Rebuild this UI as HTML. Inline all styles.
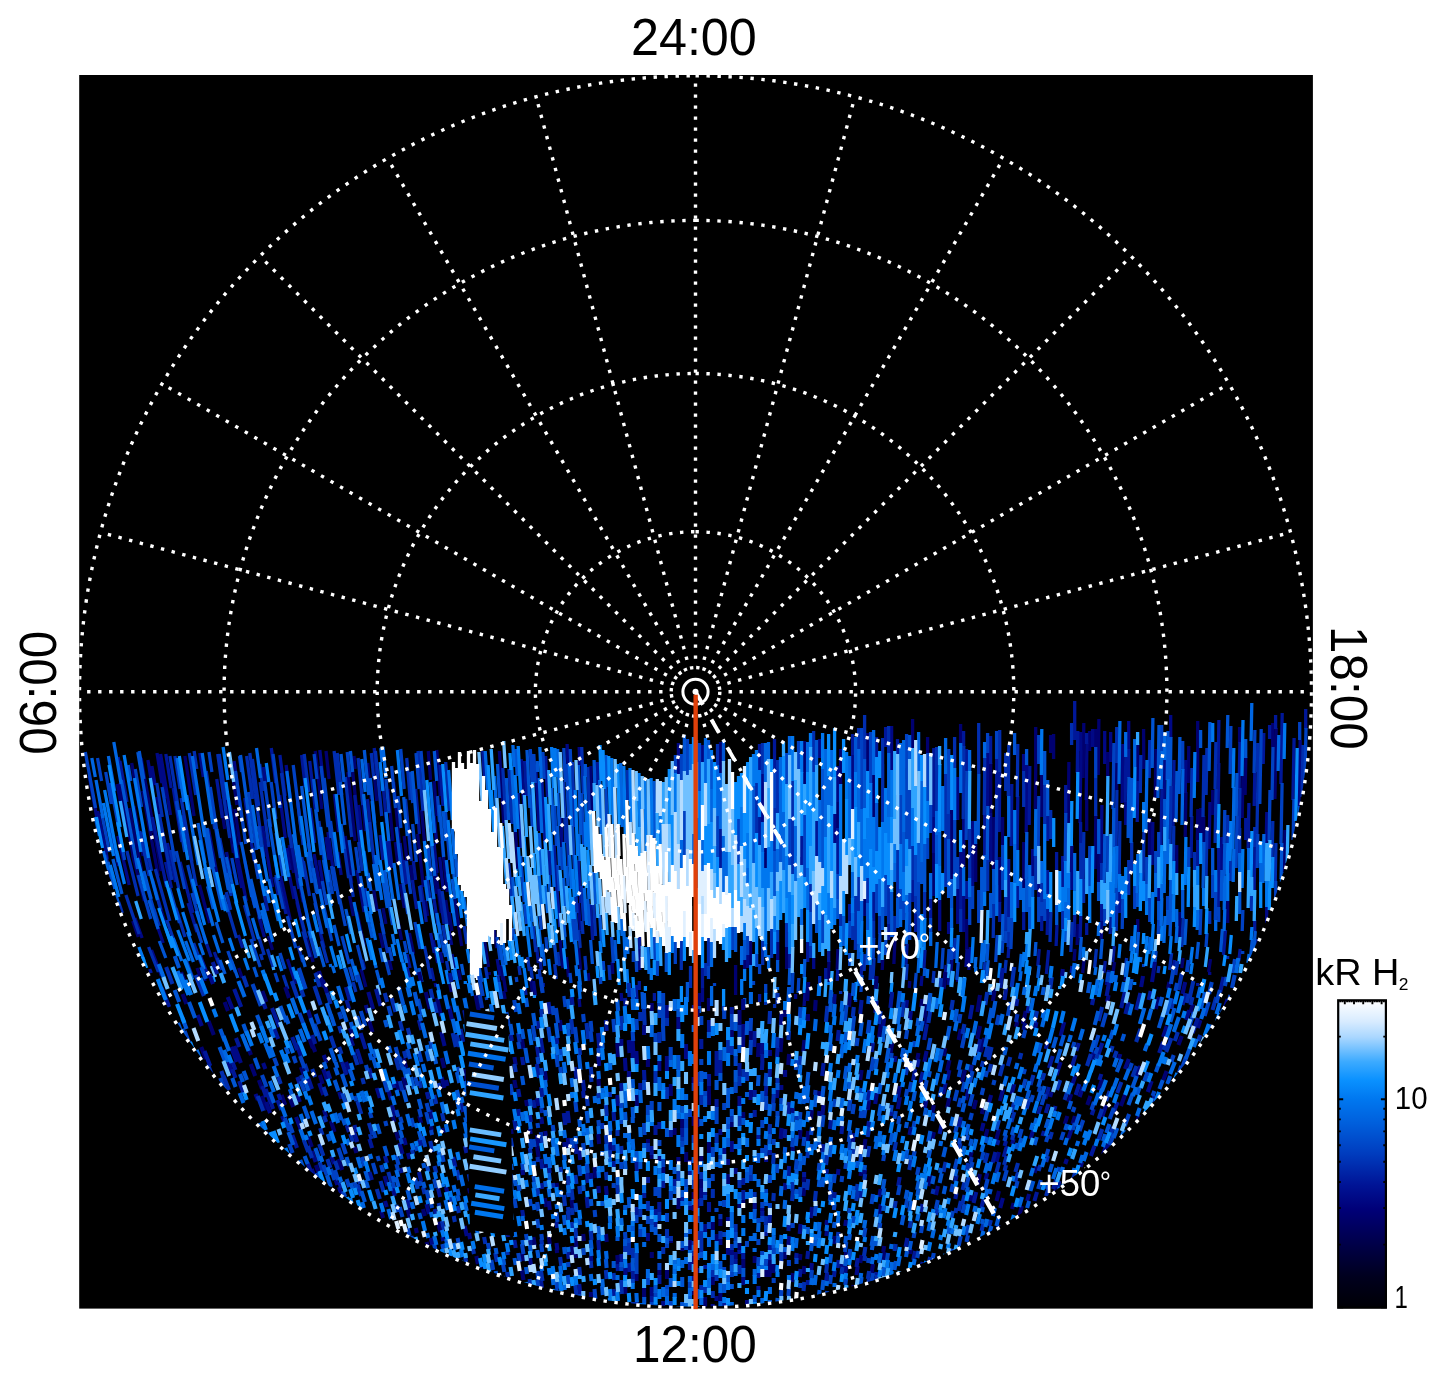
<!DOCTYPE html>
<html lang="en"><head><meta charset="utf-8"><title>Polar projection</title>
<style>html,body{margin:0;padding:0;background:#fff;width:1447px;height:1384px;overflow:hidden}svg{display:block}text{font-family:"Liberation Sans", Arial, Helvetica, sans-serif}</style></head><body>
<svg width="1447" height="1384" viewBox="0 0 1447 1384">
<rect width="1447" height="1384" fill="#fff"/>
<rect x="79.2" y="75.0" width="1233.7" height="1233.6" fill="#000"/>
<clipPath id="bx"><rect x="79.2" y="75.0" width="1233.7" height="1234.6"/></clipPath>
<g clip-path="url(#bx)">
<clipPath id="disc"><circle cx="695.5" cy="691.8" r="615.0"/></clipPath>
<g clip-path="url(#disc)" fill="none">
<g stroke-width="3.3">
<path stroke="#000070" d="M117.2 784l6.7 38M120 783l13.0 72M131.7 763l7.7 45M129.3 808l12.4 63M132.7 921l5.6 16M133.9 806l9.2 50M132.6 855l11.8 46M141.2 758l12.6 75M142.6 791l15.7 85M145.9 785l15.3 86M154.1 886l10.9 37M156 797l13.0 72M181.5 972l3.9 10M184.9 756l9.2 60M197 968l3.0 8M199.4 885l10.2 38M203.7 977l1.6 4M220.3 799l4.4 30M223.6 787l9.8 66M232.2 772l4.7 33M230.4 805l8.2 54M234.8 809l5.3 36M238.7 968l3.5 10M255.4 901l6.3 25M268.5 936l4.0 14M289.2 845l4.5 28M298 876l5.1 26M296.8 902l7.5 31M305.9 936l7.2 26M315.2 751l6.7 58M326 751l3.1 28M345.2 836l6.6 47M347.9 772l7.2 69M349.5 896l3.9 20M353.9 756l1.3 13M352.3 768l4.4 42M356.8 912l7.5 34M361.5 792l4.0 39M361.1 969l4.8 18M367.7 763l3.6 36M374.2 774l2.6 27M373.7 890l3.5 21M379.8 933l3.3 15M383 908l2.9 16M388 789l4.9 52M389.3 960l2.3 10M393.7 782l5.6 61M395.3 842l2.4 21M397.4 918l4.2 22M400.6 884l3.7 24M404.2 836l2.7 25M410.5 865l2.1 17M409.4 933l4.2 21M417.6 834l5.8 53M421.6 810l3.8 42M425.3 900l2.3 16M428.3 751l2.3 29M434.1 781l2.8 35M434.2 873l2.6 21M436.7 750l3.6 46M435.9 873l5.3 40M441.8 841l5.4 51M445.7 900l3.5 25M449 912l2.9 19M449.7 984l1.6 8M454.7 897l3.5 26M457.2 917l4.5 29M458.5 970l1.9 10M484.5 941l4.0 26M489.3 972v3M494.2 930l2.5 18M499.4 751l4.3 72M500.4 965l2.3 15M503.2 975l2.7 17M503.8 991l1.3 8M515.2 828l2.7 41M530.6 979l1.9 14M560.1 940l2.8 28M566.5 957l2.0 20M578.5 948l2.0 22M588.2 973l0.7 8M590.8 766l1.4 45M612.1 962l0.7 12M675.4 1004v6M699.5 993v14M708.5 998v13M720.5 742v31M735.6 965v17M735.6 982v13M744.6 960v10M750.6 941v25M765.5 848v21M786.7 947v22M804.6 741v43M829 961l-0.9 21M837.6 801v27M837.9 949l-0.7 21M840.6 749v36M864.6 899v17M867.6 733v39M873.6 775v43M882.8 959l-0.6 11M895 938l-1.1 26M909.8 981l-0.6 7M912.6 719v29M927.6 737v16M933.7 852v44M951.6 809v34M951.7 843v37M957.6 979v3M960.6 724v20M966.7 919v19M966.7 938v12M975.7 843v39M990.7 763v50M993.8 817l-0.5 53M999.7 857v46M1002.6 817v29M1023.7 842v47M1035.7 727v34M1035.8 760l-0.5 49M1041.7 774v43M1050.6 735v18M1053.6 734v25M1068.9 762l-0.7 61M1075 949l-1.0 12M1078 924l-0.9 21M1083.8 723l-0.7 55M1084.4 957l-1.8 16M1086.7 800v31M1089.6 731v20M1095.6 729v19M1095.8 815l-0.7 54M1098.9 719l-0.7 56M1098.7 853v30M1107.7 752v25M1114.5 962l-2.0 15M1116.7 762v28M1126 975l-1.0 6M1137.8 744l-0.5 37M1137.7 919v13M1143.6 729v11M1143.7 739v30M1149.8 818l-0.5 38M1155.9 749l-0.7 49M1176.7 845v28M1180 912l-0.9 25M1183.1 958l-1.3 10M1185.9 792l-0.7 45M1188.8 746l-0.6 37M1197.7 721v30M1197.7 751v31M1197.8 809l-0.5 31M1200.7 808v26M1203.7 816v27M1210.5 959l-1.9 13M1212.7 790v25M1227.7 901v22M1239.6 727v16M1242.9 776l-0.7 42M1245.8 757l-0.7 38M1272.7 723v24M1276.2 728l-1.3 71M1284.9 830l-0.8 43"/>
<path stroke="#000885" d="M89.2 776l8.6 47M97.7 811l9.7 48M110.3 827l8.3 39M117.8 836l11.4 49M134.9 918l7.2 20M147.9 760l5.1 31M151.9 766l3.2 19M151.5 950l10.0 26M157 753l4.9 30M155.9 922l7.3 21M159.2 757l6.6 41M160.6 754l9.9 61M199.8 753l3.5 24M208.5 829l10.1 54M226.5 852l4.1 22M234.1 761l6.8 49M233.3 844l8.5 44M234.7 843l11.6 58M244.8 861l9.4 44M258.5 916l5.9 21M263.4 767l2.1 16M262.4 826l10.2 61M279.7 795l5.6 43M280.6 876l9.7 44M286.1 765l4.8 38M286.7 848l3.6 22M289 873l5.0 26M287.4 959l8.1 25M314.1 854l8.8 50M316.4 972l4.2 14M319.8 750l3.4 30M319 860l4.9 29M325.9 837l3.1 23M327.9 832l5.3 38M334.4 794l4.2 38M337.8 852l3.4 23M358.5 805l4.0 38M356.9 870l7.2 42M434.3 816l2.4 28M434 843l3.1 30M433.2 940l4.5 23M435.1 983l0.9 4M439.7 857l3.6 33M440.4 952l2.2 11M449.3 931l2.3 14M452 954l3.1 17M497.2 959l2.7 17M521.3 759l2.4 46M533.5 981l2.0 15M536 771l2.9 60M560.8 817l1.4 31M567.1 744l0.8 20M579.2 747l0.6 19M578.5 903l1.9 28M579 998l0.9 9M621.2 993l0.5 8M639 948l0.9 22M678.4 743v32M702.5 745v17M702.5 988v14M747.6 954v14M762.6 773v49M777.7 942v19M795.6 994v5M804.9 993l-0.8 13M813.7 957v12M819.5 739v19M834.6 813v31M837.6 766v36M852.6 755v55M891.6 726v45M922 976l-0.9 10M933.6 816v37M939.7 900v31M948.6 922v12M948.8 978l-0.7 7M952 959l-0.9 12M957.7 777v43M957.7 888v36M960.6 851v19M963.7 819v49M963.7 895v37M967.1 949l-1.2 18M970.3 947l-1.5 23M972.7 821v47M972.6 867v20M987.8 753l-0.5 54M990.7 813v49M1023.6 754v17M1026.9 765l-0.7 68M1032.6 849v27M1038.6 883v15M1071.8 845l-0.5 45M1080.6 732v19M1080.9 750l-0.9 73M1086.9 743l-0.7 57M1092.6 729v18M1101.9 805l-0.8 59M1101.9 920l-0.7 19M1104.7 731v33M1108.7 970l-2.3 15M1110.7 732v30M1122.9 744l-0.8 59M1125.7 801v24M1128.7 721v29M1152.8 822l-0.6 43M1158.6 887v15M1164.8 759l-0.6 40M1170.7 715v23M1185.8 760l-0.5 33M1209.9 802l-0.8 47M1209.7 972v3M1221.8 837l-0.6 34M1266.8 812l-0.6 32M1266.7 906v17M1300.2 740l-1.3 67"/>
<path stroke="#001799" d="M118.1 757l4.8 27M119.9 761l7.1 41M149.7 969l1.6 4M152.3 817l14.3 70M165.8 754l5.4 34M165.5 862l6.0 26M167.3 843l8.3 39M173.2 788l8.6 54M180.1 862l12.8 51M188.1 903l8.8 29M194.5 952l2.0 6M200.1 955l8.9 23M203.8 936l7.4 21M214.3 952l4.4 12M216.7 779l5.7 39M238.4 935l4.2 13M244.8 798l9.4 63M261.1 881l6.7 30M271.3 748l4.5 35M274.7 877l3.6 18M279.9 755l5.2 41M278.9 881l7.1 33M290.1 835l8.8 54M293.8 886l7.4 34M301.6 755l3.7 32M302.3 895l8.4 36M309.7 761l5.6 48M310.3 808l4.3 35M318.9 927l5.3 21M354.7 795l5.6 52M362.3 960l2.3 9M367.5 799l4.0 39M374.2 748l2.5 26M380.1 835l2.8 25M382.4 778l4.2 45M385.7 841l3.6 30M388.9 840l3.2 28M400 843l5.0 42M404 860l3.0 24M407 954l3.0 14M407 967l3.0 13M413.3 861l2.3 19M412.4 880l4.2 29M415.6 789l3.9 45M420.8 885l5.5 37M430.6 933l3.7 20M431.2 968l2.7 13M433.2 894l4.7 31M439.9 765l3.1 41M439 889l5.1 35M482.7 751l1.7 26M518 793l3.1 55M524.6 761l1.8 35M524.9 987l1.2 8M536.5 946l1.9 17M539.7 957l1.5 13M541.8 779l3.4 71M543.3 983v4M545.6 756l1.9 41M548.7 850l1.5 25M554.1 845l2.8 47M557.1 891l2.8 36M578.3 860l2.4 43M590.3 904l2.4 36M597.2 762l0.7 23M636.1 985l0.8 15M639.3 936v13M639.3 981v9M654.4 993v8M693.5 1005v7M702.5 967v21M720.5 828v40M759.5 744v27M759.5 816v29M759.6 994v8M774.5 739v35M789.7 953v16M801.6 836v30M807.7 942v20M816.6 820v36M825.7 968v11M828.7 951v11M837.6 828v47M837.8 969l-0.6 12M849.6 904v18M852.6 734v21M861.8 964l-0.6 12M873.6 891v30M876.6 737v20M885.6 727v20M888.7 923v17M897.5 739v16M907 944l-1.0 21M912.6 880v22M915.6 914v18M925 950l-1.1 19M930.6 898v20M933.8 748l-0.5 69M946.1 965l-1.3 15M960.7 869v40M963.6 731v16M966.6 749v23M966.6 881v18M984.7 815v41M990.6 736v28M996.7 759v37M999.8 772l-0.6 60M999.6 902v20M1008.7 859v34M1008.6 893v25M1008.9 946l-0.8 12M1011.8 784l-0.6 62M1014.6 967v3M1017.8 796l-0.6 54M1017.6 885v23M1023.7 912v18M1029.8 766l-0.6 59M1039.2 949l-1.4 17M1041.7 916v15M1047.6 815v26M1047.6 870v25M1047.8 909l-0.6 26M1048.6 950l-2.2 24M1056.6 852v19M1057 925l-0.9 21M1062.7 856v31M1065.7 785v29M1071.9 966l-0.7 7M1074.7 701v39M1074.8 914l-0.7 23M1077.8 731l-0.5 42M1080.6 822v21M1080.8 916l-0.7 22M1086.6 733v11M1086.7 923v12M1101.6 904v17M1105.3 961l-1.5 12M1110.8 916l-0.6 18M1114.2 946l-1.5 16M1119.6 892v21M1125.8 757l-0.6 45M1128.7 749v29M1137.8 781l-0.6 41M1161.9 788l-0.9 57M1174 760l-1.0 67M1174.4 960l-1.9 13M1191.8 816l-0.7 42M1197.7 840v26M1197.7 983v3M1218.9 720l-0.7 44M1218.8 763l-0.7 41M1218.7 847v23M1218.8 870l-0.6 38M1225.5 930l-2.0 25M1239.9 742l-0.8 47M1240.2 949l-1.4 12M1245.7 818v22M1248.9 803l-0.8 46M1254.8 772l-0.6 34M1254.9 847l-0.8 44M1254.7 920v11M1257.7 939v6M1263.8 733l-0.6 31M1269.6 725v14M1275.6 715v14M1282.2 713l-1.3 71M1294.1 738l-1.2 62M1305.7 709v20"/>
<path stroke="#002daf" d="M105.5 855l5.9 24M118.7 902l3.6 11M126.9 851l11.2 45M125.9 895l13.2 39M139.8 831l9.4 45M143.4 832l8.2 39M148.6 947l9.8 25M152.2 879l8.6 31M153.9 909l5.3 17M156.7 783l5.6 34M155.3 869l14.5 52M159.1 814l12.8 66M166.7 920l9.5 27M169.9 756l9.3 58M170.3 850l8.4 38M174.9 756l5.2 33M175.9 908l9.1 29M181.1 798l10.9 64M182.7 815l13.6 71M186.5 961l6.0 16M189.3 753l6.5 42M194.1 751l2.7 18M193.6 943l9.7 26M206.2 771l8.5 58M217.7 754l3.6 25M217.3 958l4.4 12M219.2 754l6.6 46M221.2 779l8.5 59M219.7 838l11.5 58M226.3 892l4.4 18M226.5 904l10.0 34M246.6 756l5.9 43M244.4 905l10.1 36M249.8 753l5.4 40M252.4 759l6.3 47M253 778l10.9 79M259.7 764l3.5 27M258.8 937l5.5 18M260.5 954l1.9 6M260.1 782l8.8 65M267.4 949l6.1 19M281.5 773l8.0 64M283.2 975l4.7 14M285.5 802l6.1 46M297.7 802l5.5 43M298.1 946l4.7 16M301.7 857l3.6 22M300.9 917l5.3 21M304.2 754l4.5 38M303.4 861l6.2 35M302.8 931l7.3 26M318.9 821l5.2 40M321.5 941l6.0 22M334.1 751l4.8 44M337.2 753l4.6 42M342.3 832l6.3 46M345.3 777l6.4 60M349.7 875l3.6 22M353.1 982l2.8 10M358.1 758l4.8 47M358.6 842l3.7 29M364.9 888l3.2 19M371.3 753l2.4 25M369.5 822l5.9 50M375.4 751l6.3 65M381.3 923l6.4 30M406.7 758l3.6 42M405.5 799l5.9 62M418 751l5.0 60M419.4 886l2.2 16M424.4 946l4.1 20M426.8 876l5.5 39M428 965l3.0 14M442 891l4.9 34M442.8 925l3.4 20M445.7 762l3.7 49M446.6 961l1.8 10M464.1 926l2.8 18M485.5 967l2.0 12M497.6 975l1.8 11M502.8 768l3.4 59M509 769l3.1 55M508.6 863l3.8 43M518.9 966l1.2 9M527.6 957l1.8 14M530.7 967l1.6 12M533.1 926l2.8 26M539.1 969l2.8 22M554.7 964l1.6 15M557.8 952l1.5 14M563.3 782l2.5 61M566.4 817l2.3 50M572.3 762l2.4 65M576 896l1.1 17M578.8 930l1.4 18M581.7 747l1.6 47M581.4 886l2.2 35M582 921l0.9 13M584.9 956l1.2 14M587.8 767l1.5 45M593.5 903l2.0 33M609 965l1.0 15M627.2 770l0.6 31M636.3 999v10M681.3 941v29M690.5 966v22M705.5 963v13M708.5 938v29M717.5 744v21M756.6 782v52M762.5 743v31M762.7 941v24M765.6 1002v3M771.6 929v12M771.6 940v18M774.6 808v44M774.6 1004v4M777.6 760v54M786.6 922v25M792.6 781v66M792.5 847v28M810.6 884v28M810.6 945v13M813.6 731v41M819.7 976v10M840.6 913v14M840.6 991v3M852.6 925v15M855.6 896v31M855.8 926l-0.5 24M858.6 728v22M858.6 876v35M864.6 715v44M864.9 954l-0.8 17M867.6 878v26M870.9 965l-0.9 15M873.6 921v18M874.1 958l-1.2 22M879.6 915v19M882.6 738v26M882.7 764v58M888.6 726v27M888.6 885v39M891.9 994l-0.8 8M894.7 916v23M897.7 849v50M907.1 964l-1.1 16M912.6 845v35M915.6 895v19M924.6 891v28M934 971l-1.0 12M936.6 747v24M936.7 770v42M945.7 773v45M945.7 818v51M945.6 869v18M948.6 814v26M954.6 737v31M955 938l-1.0 21M960.7 909v23M963.8 746l-0.6 73M969.7 828v50M978.7 723v51M984.8 757l-0.5 58M985 962l-1.1 13M987.7 859v32M993.8 903l-0.6 35M996.8 796l-0.6 65M999.7 730v42M1005.7 753v38M1005.8 896l-0.5 35M1006.1 960l-1.2 13M1008.8 745l-0.5 51M1008.8 931l-0.7 16M1017.8 744l-0.5 53M1023.7 771v36M1035.7 855v35M1041.6 883v20M1044.7 785v39M1050.7 810v29M1050.9 912l-0.9 30M1062.7 910v20M1071.6 723v22M1072.2 922l-1.4 30M1080.7 843v37M1083.8 832l-0.6 47M1083.6 879v24M1095.7 778v38M1096.4 949l-1.8 19M1101.6 863v18M1116.7 727v36M1116.9 790l-0.8 58M1116.8 906l-0.6 25M1119.9 821l-0.7 54M1126.6 958l-2.2 17M1128.7 860v35M1131.7 842v30M1140.8 755l-0.5 38M1143.9 832l-0.7 49M1149.8 740l-0.6 38M1159 966l-1.0 7M1170.9 786l-0.9 59M1171.6 953l-2.1 17M1173.8 826l-0.5 35M1183.2 918l-1.5 29M1191.9 768l-0.8 49M1194.6 852v19M1204 755l-1.0 62M1206.9 748l-0.8 47M1206.9 829l-0.8 48M1209.7 911v13M1215.9 742l-0.8 47M1216 789l-0.9 54M1227.7 815v28M1227.6 956v3M1230.7 861v20M1239.9 788l-0.7 41M1239.7 828v25M1251.6 895v16M1254.7 827v20M1257.8 743l-0.5 29M1258.1 771l-1.2 64M1272.8 821l-0.7 38M1275.9 843l-0.7 39M1303 745l-1.0 52"/>
<path stroke="#0041c3" d="M85.3 752l10.3 56M97.5 758l4.1 23M101.8 814l7.5 38M105.7 772l5.6 32M110.4 783l14.2 77M135.3 769l6.3 38M138.1 875l12.7 44M143.7 875l13.6 47M162.1 787l12.9 75M169.5 888l10.0 35M176.3 801l8.4 51M176.3 851l8.4 38M187.7 865l9.5 39M191.9 893l7.3 26M195.4 924l6.3 19M209 752l2.9 20M210.3 787l6.4 43M212.5 808l8.0 50M227.8 951l7.5 21M231.8 858l5.4 27M239.5 756l2.1 16M235.4 771l10.3 73M248.4 792l8.1 58M252.7 848l5.6 31M250.9 939l9.3 28M258.4 826l6.2 39M264.5 781l6.0 46M271.1 782l4.7 37M273 754l7.0 54M275 973l3.0 9M276.1 833l6.9 43M275.9 875l7.3 34M280 953l5.1 16M287.3 916l8.5 32M293.2 765l8.5 70M308.4 843l8.2 50M308.8 931l7.3 27M314.1 754l2.9 25M313.4 893l4.1 20M314.9 903l7.2 31M321 766l7.0 61M322.2 881l4.5 24M324.1 778l6.8 60M323.3 905l8.5 36M328.4 870l4.1 24M330.5 821l5.9 45M331.5 866l4.1 25M333.2 867l6.5 37M339.7 899l5.6 27M341.9 936l7.3 28M347.2 752l2.6 25M349.5 967l4.0 14M355.7 847l3.5 26M357.3 945l6.4 25M379.1 909l4.9 25M385.9 779l3.2 34M385.5 959l4.0 16M388.3 900l4.3 25M389 947l3.1 14M391.6 766l3.9 42M398 796l2.9 32M400.7 749l3.5 40M403.1 883l4.7 31M404.3 941l2.4 12M406.4 861l4.3 33M410.2 772l2.6 31M412.6 824l3.8 38M416 753l3.1 36M414.9 922l5.2 27M421 751l5.0 60M427.8 845l3.3 31M437.5 796l2.0 26M438.9 923l5.2 30M445.4 811l4.2 49M486.2 997l0.5 3M496.9 937l3.2 23M512.8 928l1.5 13M516.2 977l0.7 5M520.6 856l3.7 46M524.5 904l2.0 20M530.3 749l2.3 46M530.7 795l1.6 32M533.8 754l1.4 29M537.2 974l0.5 5M539.8 914l1.5 16M542.9 752l1.2 27M545.8 937l1.3 13M554.6 805l1.8 41M554.3 942l2.4 23M557.7 865l1.6 26M560.9 847l1.2 23M563.8 748l1.4 34M563.9 996l1.2 11M566.4 764l2.1 54M570.2 749l0.6 15M570 973l1.0 10M572.5 826l1.9 43M572.5 918l2.1 26M575.4 912l2.2 29M581.6 793l1.9 52M600.2 977l0.6 7M603.2 961l0.7 10M605.9 786l1.1 42M611.7 937l1.6 26M633.3 951v11M636.2 961l0.5 11M654.1 936l0.7 25M657.3 961v15M663.4 995v9M675.4 755v19M675.3 941v23M681.4 754v27M684.4 810v46M687.5 739v37M699.5 743v49M708.5 966v13M714.5 983v3M717.5 815v43M723.5 1006v5M732.6 927v23M738.5 819v46M747.6 936v19M753.5 981v4M756.6 953v14M759.6 964v10M765.7 984v10M774.5 773v35M777.6 929v13M786.5 753v31M789.5 818v26M789.5 843v22M792.9 972l-0.8 21M798.5 741v28M798.8 978l-0.7 15M804.6 814v36M804.5 849v28M822.7 910v33M837.6 874v25M849.6 921v17M849.7 953v13M855.6 999v3M861.6 728v33M861.6 761v49M862.1 975l-1.2 17M870.6 732v52M873.8 938l-0.7 21M876.6 884v29M880 933l-1.0 30M885.6 875v41M885.8 940l-0.5 15M900.7 795v49M900.6 888v21M903.6 901v19M906.6 734v34M906.7 767v73M909.7 789v60M909.6 892v33M909.7 924v16M915.6 854v42M916.2 973l-1.4 16M918.6 882v37M918.7 918v23M927.7 753v48M927.6 838v21M930.6 804v29M930.6 918v15M943.1 948l-1.2 21M948.8 749l-0.5 65M949 949l-0.9 16M951.9 946l-0.7 14M954.7 819v56M957.6 857v32M958.3 962l-1.5 18M966.8 771l-0.6 69M969.7 896v29M972.6 886v23M978.7 890v33M987.6 733v20M996.6 731v28M997.2 935l-1.5 27M1002.7 845v45M1002.8 940l-0.7 13M1005.7 931v12M1008.7 917v15M1012 918l-1.1 31M1038.7 735v29M1038.8 796l-0.6 51M1038.7 897v25M1041.6 902v14M1044.7 899v22M1065.8 813l-0.6 49M1089.8 846l-0.5 40M1095.7 747v31M1101.8 980l-0.6 4M1104.7 909v17M1107.7 836v37M1113.9 743l-0.9 66M1116.6 888v18M1122.8 899l-0.6 30M1134.7 885v24M1143.6 964v3M1146.7 857v28M1149.7 897v25M1155.7 851v22M1156.1 951l-1.1 11M1158.7 832v25M1158.8 920l-0.6 15M1161.7 725v26M1167.6 896v15M1182.7 741v29M1188.7 847v21M1200.9 909l-0.9 26M1207 933l-1.0 14M1212.7 874v24M1215.8 892l-0.5 28M1218.7 907v15M1224.8 810l-0.6 34M1230.9 726l-0.8 48M1234.6 959l-2.2 14M1237 816l-0.9 52M1242.9 910l-0.7 21M1242.7 951v3M1254.9 730l-0.8 43M1257.8 834l-0.6 34M1261.2 729l-1.4 75M1270 790l-0.9 51M1273 747l-1.0 53M1275.7 881v17M1282.1 783l-1.1 61M1293.9 799l-0.8 41M1299.7 722v18M1306 728l-1.0 50"/>
<path stroke="#0054d3" d="M94.7 817l3.6 19M108 862l6.9 27M112.9 859l9.1 35M115.7 894l3.5 12M128.2 765l2.6 16M121.3 780l16.3 89M139.2 751l4.6 28M137.8 752l13.4 79M143.8 871l7.4 28M148.8 900l9.4 29M159.3 941l6.5 17M198 823l7.0 40M203.4 823l8.1 46M204.6 868l5.9 26M207 828l6.9 39M207.5 886l5.9 23M210.4 857l12.2 53M216.1 922l6.8 21M216.7 829l11.6 61M219.9 960l5.2 14M223.4 895l4.3 17M226.3 873l4.3 20M226.3 857l10.4 48M231.2 960l6.7 18M240.5 755l12.0 88M241.2 842l10.6 55M244 896l5.0 20M249.8 885l5.4 23M250.8 879l9.5 40M253.8 967l3.4 10M268.7 819l9.6 61M301.6 786l3.7 31M299.3 878l8.4 40M301.8 955l3.4 12M302.1 791l8.9 70M307 852l5.0 31M313.6 779l3.8 33M313.2 868l4.6 26M315.6 809l5.7 46M318.6 947l5.7 20M323.5 860l8.0 46M334 925l5.1 21M341 754l3.0 28M340.2 782l4.6 43M341 824l3.0 25M345.8 909l5.4 25M350.4 751l2.2 21M349.1 840l4.8 36M351.3 959l6.3 23M360.4 876l6.2 36M364.3 750l4.5 45M363.9 851l5.3 37M368.1 873l2.8 18M366.9 913l5.3 25M370.3 778l4.4 45M376.5 970l4.0 15M379.9 948l3.1 14M381.6 871l5.7 37M384.7 870l5.6 36M396.3 827l6.4 56M403.7 797l3.6 39M406.1 930l4.9 24M412.2 771l4.5 53M412 952l5.1 23M419 968l3.0 14M430.3 832l4.5 44M434.3 751l2.4 30M439.3 805l4.4 52M443.3 811l2.5 30M443.5 945l2.1 12M452.4 859l2.1 21M452.3 879l2.4 20M455.4 854l2.3 23M461.5 964l2.0 11M479.3 968l2.5 14M497.5 764l2.0 34M500 945l3.0 21M506.3 778l2.4 42M512.6 877l1.7 20M515.8 749l1.4 27M527 750l2.9 58M537.2 761l0.5 11M539.2 833l2.5 42M542.2 944l2.5 22M548.9 875l1.2 18M551.5 788l2.0 45M557.8 793l1.4 33M557.5 826l2.0 40M563.5 878l1.9 29M563.9 924l1.1 13M566.9 866l1.1 20M578.3 765l2.5 70M585.3 764v13M587.7 899l1.7 27M590.6 940l1.8 24M594.1 760l0.7 24M593.7 872l1.6 32M599.7 914l1.6 27M606.1 755l0.9 32M614.9 940l1.2 21M642.1 992l0.8 17M654.1 781l0.7 58M666.3 952v20M684.4 735v37M687.4 982v20M696.5 740v22M696.5 817v35M699.5 1006v7M708.5 740v20M711.5 759v31M723.5 741v21M735.6 926v26M744.6 940v20M744.6 998v8M753.5 785v30M753.5 815v49M774.6 851v46M777.6 960v12M780.5 835v28M789.8 968l-0.6 17M804.8 959l-0.6 19M810.7 912v34M816.5 740v26M816.6 903v30M822.6 768v53M822.6 821v48M837.6 899v20M843.7 916v30M855.6 737v35M858.8 943l-0.5 16M864.6 759v50M867.6 903v28M867.9 944l-0.8 21M876.6 802v50M882.6 907v23M891.6 891v20M891.7 911v26M897.6 898v30M903.6 832v41M909.6 735v24M918.6 842v40M921.6 862v22M924.7 844v48M924.8 968l-0.6 8M936.6 835v30M948.6 839v30M948.6 868v30M951.6 879v29M975.6 821v23M978.8 774l-0.6 65M981.7 867v44M984.7 855v37M984.8 974l-0.7 7M987.8 806l-0.5 54M988 943l-1.0 18M988.2 960l-1.5 17M990.6 893v25M990.7 992v3M993.7 869v35M1002.9 914l-0.7 27M1014.6 733v22M1026.6 749v16M1026.8 832l-0.5 47M1026.7 879v33M1029.7 907v23M1032.6 876v22M1035.9 942l-0.9 14M1039.2 965l-1.5 13M1044.7 751v34M1047.7 780v36M1056.7 904v21M1065.8 930l-0.5 12M1081.3 937l-1.6 23M1098.7 819v35M1098.6 882v19M1102.2 939l-1.5 20M1104.8 834l-0.7 50M1113.8 808l-0.5 39M1128.9 777l-0.8 61M1132 778l-0.9 65M1137.6 893v14M1138.5 932l-1.9 27M1152.9 718l-0.7 50M1159 725l-1.1 73M1158.7 901v19M1164.7 799v29M1167.9 731l-0.7 49M1167.7 910v15M1170.9 737l-0.7 49M1170.8 879l-0.5 34M1170.9 912l-0.9 24M1176.9 771l-0.8 51M1176.7 963v4M1179.9 737l-0.9 57M1182.7 889v29M1186.2 919l-1.4 26M1198.4 942l-1.7 17M1200.6 730v18M1203.9 842l-0.8 46M1209.9 722l-0.8 49M1212.7 848v27M1221.8 870l-0.5 31M1222.4 929l-1.8 23M1224.8 843l-0.6 33M1227.8 715l-0.6 33M1236.9 773l-0.7 43M1239.7 891v23M1245.7 739v19M1252.4 939l-1.9 18M1255.3 931l-1.6 20M1281.8 843l-0.7 36M1299.6 806v7"/>
<path stroke="#0066e2" d="M91.8 758l3.5 19M96 780l6.9 38M103.3 851l4.3 19M108.4 756l6.2 35M113.8 742l7.3 42M149.5 870l8.0 30M173.2 938l8.6 23M177.1 758l6.9 44M185.6 941l7.8 21M186.6 795l11.7 70M187.5 932l10.0 28M192.3 756l12.4 81M196.3 911l10.4 33M199.4 943l4.2 12M202.2 753l10.6 71M208 908l5.1 18M213.5 935l5.9 18M252.4 805l6.3 44M252.5 918l6.1 21M256.5 748l4.0 30M261.4 847l6.1 34M261.4 910l6.1 23M265.7 886l3.7 17M262.3 903l10.5 39M268.7 879l9.6 42M286.8 771l9.4 75M293.4 834l8.3 52M298 845l5.0 32M307.1 918l4.8 20M315.2 979l0.7 3M319.5 889l4.1 21M320.6 827l7.8 55M321.8 904l5.3 24M330.2 964l0.6 3M332.5 966l2.1 7M354 902l7.0 34M361.8 759l3.4 33M363.5 794l6.1 58M369.5 911l6.0 29M372.1 801l6.9 64M373.5 864l3.9 27M374.9 963l1.3 5M375.2 855l6.6 45M380.8 748l1.3 14M383 747l2.9 31M386 812l2.9 29M388.1 867l4.9 33M392.4 934l2.2 11M393.9 863l5.1 37M400.3 952l4.3 19M404.3 952l2.4 11M425.1 880l2.8 21M430.4 782l4.1 51M431 876l2.9 23M436.8 913l3.3 21M437.2 933l2.6 15M437.4 984l2.2 10M446.3 860l2.3 22M445.6 940l3.8 21M452.2 828l2.7 31M451.6 899l3.8 27M452.6 970l1.9 10M463.5 896l4.0 30M470.5 985l2.0 11M485.2 751l2.6 40M494.5 776l2.0 33M502.9 942l3.2 23M512.9 745l1.2 22M511.7 766l3.7 66M530.7 905l1.6 17M530.6 921l1.9 18M539.8 747l1.5 31M539.2 778l2.6 55M538.9 874l3.3 41M538.9 929l3.1 28M545.3 883l2.3 30M550.9 832l3.2 55M557.6 749l1.8 44M563.5 842l1.9 36M564 937l1.1 12M569.3 763l2.4 63M569.6 855l1.8 34M575.4 940l2.2 25M576 965l1.0 11M578.9 834l1.1 27M578.7 969l1.5 16M578.8 985l1.4 14M584.7 776l1.6 47M584.3 888l2.3 37M585 970l1.0 11M588 880l1.0 19M599.7 780l1.6 55M620.8 763l1.4 64M621.1 918l0.9 18M623.8 930l1.4 29M627.1 937l0.8 17M648 947l1.0 27M681.4 840v29M690.5 744v26M693.5 833v31M702.5 840v32M705.5 738v46M711.5 789v33M711.5 942v25M711.6 986v20M717.5 765v51M720.5 773v56M723.5 836v57M726.5 851v25M741.6 946v19M747.5 868v18M762.5 822v31M765.5 743v40M765.6 943v14M768.5 742v18M768.6 955v14M777.5 849v24M777.5 987v3M780.5 757v36M780.6 792v44M783.6 811v60M789.5 736v20M795.6 825v56M801.5 909v17M807.6 742v30M807.6 867v43M819.6 800v63M825.6 749v43M825.6 791v47M828.6 776v30M831.6 750v56M849.6 756v22M849.7 777v61M852.6 872v27M852.6 912v14M858.7 749v74M858.6 911v17M858.6 928v16M858.9 974l-0.8 12M861.7 809v58M861.6 900v21M873.6 730v45M877.1 983l-1.2 14M879.6 878v38M888.7 753v65M894.6 863v19M900.7 743v52M900.6 909v18M903.6 740v40M903.7 779v53M906.6 894v19M906.8 912l-0.6 32M918.6 732v39M919 958l-0.9 15M921.6 780v38M921.7 817v45M927.8 969l-0.7 9M930.6 873v26M930.7 932v14M936.6 811v24M937.2 942l-1.4 26M939.6 831v35M945.6 738v36M951.6 908v21M958.2 935l-1.4 28M960.7 743v50M963.6 867v29M969.6 750v22M969.6 878v19M975.9 957l-0.8 11M975.7 967v5M982.4 943l-1.7 26M984.6 742v16M985.1 940l-1.3 22M996.6 860v25M996.7 885v31M1008.7 796v41M1011.6 882v21M1011.6 902v16M1014.7 844v40M1020.6 880v20M1021.3 954l-1.6 18M1021.1 971l-1.2 10M1023.6 888v24M1029.7 865v42M1035.8 809l-0.5 47M1041.6 861v22M1050.8 977l-0.6 5M1065.6 901v18M1068.7 888v33M1074.7 853v39M1096 967l-1.1 8M1098.8 922l-0.5 14M1116.8 846l-0.6 42M1119.9 721l-0.9 63M1125.7 732v25M1132 936l-1.1 15M1134.7 739v28M1137.8 854l-0.6 39M1140.8 957l-0.5 5M1147 760l-1.0 70M1146.6 884v17M1150.2 937l-1.3 17M1155.7 873v24M1161.8 751l-0.6 38M1161.6 883v16M1161.8 898l-0.6 28M1164.7 732v28M1164.8 850l-0.6 43M1165.1 916l-1.2 27M1168 779l-0.9 61M1167.7 839v25M1176.7 909v18M1177 926l-0.9 17M1182.9 769l-0.9 56M1197.8 909l-0.6 21M1215.7 920v11M1224.8 876l-0.6 34M1224.8 909l-0.7 22M1234 787l-1.1 62M1233.8 849l-0.6 33M1239.7 853v19M1248.7 848v22M1249.1 954l-1.2 9M1251.8 703l-0.7 38M1260.7 862v20M1263.9 834l-0.9 49M1275.5 898v3M1278.8 735l-0.7 36M1281.5 878v4M1284.5 872v3"/>
<path stroke="#0077ef" d="M103.4 803l10.2 53M104.6 790l13.8 72M110.2 865l8.6 32M116.6 851l7.9 33M124.1 755l16.8 97M134.5 778l14.0 80M137.4 858l8.2 33M138.9 947l5.3 14M166.1 929l4.9 14M177.8 888l5.4 20M179.1 810l8.8 50M177.7 930l11.6 31M182.7 912l7.6 24M192.2 879l12.5 46M198.9 955l5.3 14M199.9 840l9.2 46M208.2 882l10.6 40M219.7 889l5.7 22M223.1 747l4.7 33M225.9 782l11.1 76M229.3 938l4.3 13M244.4 958l4.1 12M258.3 864l6.4 32M266.3 763l2.5 19M277.2 956l4.6 15M282.3 837l6.5 40M292.7 967l3.7 12M300.8 816l5.5 41M313.3 913l4.5 19M330.7 946l5.7 21M334.1 832l4.8 36M336.1 794l6.7 59M365 906l3.0 16M367.5 891l4.0 23M366.9 938l5.1 22M380.1 762l2.8 29M380 860l3.1 23M381.2 980l0.5 3M392.2 944l2.5 12M397.4 750l4.1 46M397 939l5.0 23M418.6 901l3.7 23M424.4 841l4.2 39M446.1 970l2.8 14M448.6 770l3.8 50M448 820l4.9 54M448.1 874l4.8 39M454.5 968l4.1 21M457.4 884l4.3 34M465.3 981v3M467.3 949l2.4 14M503.7 965l1.7 11M515 775l3.0 54M515.3 934l2.5 20M518.2 746l2.5 47M518.4 847l2.1 30M524.5 882l1.9 23M524.1 968l2.8 20M526.7 926l3.6 31M548.6 959l1.8 16M551.6 747l1.8 41M554.9 748l1.2 29M572.7 869l1.6 28M575.2 790l2.5 66M575.4 855l2.2 41M585 822l0.9 25M587.8 811l1.4 39M600.1 941l0.8 12M611.7 758l1.7 66M623.8 766l1.5 68M626.9 969l1.1 20M627.4 989v4M630 768l1.1 54M639 773l0.9 55M644.9 778l1.2 74M651.1 778l0.8 58M651.3 968v12M660.3 815v29M672.4 936v17M675.4 773v40M699.5 791v50M711.5 750v10M741.5 806v41M741.7 979v16M744.5 922v18M744.6 969v12M747.5 832v36M750.7 965v23M753.5 754v32M756.5 750v33M756.6 928v26M759.5 770v47M762.5 852v36M765.5 868v45M765.6 912v32M765.7 993v9M768.5 847v42M771.5 840v33M774.5 915v17M786.6 855v43M789.6 892v40M789.7 931v23M792.6 736v45M801.6 741v32M810.5 733v15M813.6 772v37M819.7 920v32M822.6 733v36M828.6 893v30M828.6 982v3M834.6 908v17M840.6 784v32M840.6 815v61M840.7 926v22M846.6 752v48M852.5 898v15M855.6 772v36M861.8 921l-0.6 31M861.8 952l-0.5 13M864.6 838v44M867.7 817v61M870.7 783v67M873.6 817v51M882.6 822v26M882.6 847v32M885.6 788v46M888.6 817v27M891.7 770v48M894.6 843v20M900.6 844v25M900.6 868v21M903.6 872v29M904 946l-1.1 22M912.6 808v38M924.9 918l-0.8 32M927.6 801v37M936.8 980l-0.5 6M939.6 866v34M942.7 786v45M952.2 971l-1.3 14M954.7 768v52M963.6 997v3M973.2 937l-1.4 26M984.6 892v14M1000.2 963l-1.4 15M1014.7 810v34M1017.7 850v36M1024.1 952l-1.3 15M1027.1 944l-1.1 17M1041.8 729l-0.5 46M1044.7 824v33M1044.7 856v43M1047.6 894v15M1062.6 887v24M1063.3 929l-1.6 27M1065.6 861v22M1065.6 883v19M1068.6 872v16M1083.9 947l-0.9 11M1089.7 886v37M1110.7 881v36M1113.8 847l-0.6 47M1113.8 893l-0.6 35M1119.6 874v18M1120.1 944l-1.2 14M1122.7 876v23M1125.7 867v26M1132.1 951l-1.2 12M1135.4 925l-1.7 29M1134.7 982v3M1143.7 802v30M1146.6 901v14M1147 936l-1.1 15M1152.8 892l-0.5 32M1153.3 924l-1.6 27M1153.5 950l-2.1 18M1161.9 926l-0.8 15M1171.2 936l-1.4 18M1173.8 893l-0.5 29M1185.9 837l-0.7 48M1192.4 947l-1.9 17M1192.3 963l-1.6 11M1194.9 752l-0.7 46M1197.7 866v19M1203.6 888v18M1212.7 723v19M1215.7 870v22M1227.8 843l-0.5 31M1227.7 873v28M1230.8 821l-0.7 40M1233.8 748l-0.7 40M1243 720l-1.0 56M1242.8 849l-0.7 39M1251.9 927l-0.8 13M1266.7 881v26M1284.8 723l-0.7 36"/>
<path stroke="#088dfd" d="M96.4 817l6.1 31M109 765l11.1 62M117.6 822l5.9 30M142.4 957l4.3 11M158.7 908l13.6 40M166 881l11.1 39M170.8 936l7.4 20M179.3 756l8.5 54M212.5 976l2.0 6M216.4 872l6.1 27M232.3 884l4.4 19M235.6 901l9.8 35M274.5 855l3.9 23M274.6 894l3.8 17M277.2 909l4.7 19M289.7 947l3.7 13M295.2 919l4.6 18M305 778l9.0 74M328.8 918l3.4 15M337.6 955l3.8 14M346.4 934l4.3 18M360.6 830l5.8 46M369.6 940l5.9 25M381.7 822l5.7 50M403.6 963l3.8 16M406.4 979l4.2 17M418.1 924l4.8 25M426.8 780l5.5 66M435.9 947l5.2 26M439.3 963l4.4 21M442.7 764l3.6 48M455.3 877l2.4 21M455.4 957l2.2 12M461.3 890l2.3 19M484.7 978l3.5 20M488.1 765l2.8 44M491.2 790l2.7 42M495.1 971l0.7 5M510 753l0.9 17M509.1 940l2.7 20M515.8 869l1.5 18M518.8 955l1.5 11M521.8 957l1.4 11M523.9 836l3.1 46M527.4 905l2.1 22M533.7 853l1.5 23M534.4 995v3M545.5 797l2.1 44M554.4 891l2.2 28M554.4 919l2.2 24M563.5 948l2.1 21M569.4 888l2.1 31M569.5 918l2.0 24M572.8 897l1.5 22M587.8 850l1.4 31M597 966l0.9 12M600 745l1.0 36M603 750l1.1 39M602.9 929l1.1 18M603.1 970l0.8 11M608.7 756l1.5 59M617.8 764l1.4 61M618.1 930l0.7 14M617.7 959l1.6 26M633 977l1.1 20M645.4 986v5M654.3 960v15M657.2 943l0.5 18M669.3 769v55M669.3 951v24M672.3 814v52M681.4 986v16M684.4 936v25M693.5 737v28M696.5 851v37M702.5 936v32M705.5 825v40M708.5 824v39M711.5 822v49M714.5 762v46M717.5 857v31M723.5 936v14M723.6 989v17M729.6 927v31M735.5 782v54M738.5 776v43M741.5 773v34M744.5 812v47M747.6 762v71M756.5 833v27M756.5 860v27M771.5 759v13M774.6 932v22M780.6 881v39M783.6 756v56M786.5 898v25M792.6 894v30M801.6 772v64M801.7 964v10M804.6 877v31M804.9 977l-0.8 16M807.6 772v67M807.6 838v30M807.6 910v32M810.6 804v43M822.6 885v26M825.6 837v34M825.6 870v45M828.6 734v42M831.6 806v65M831.6 897v32M831.6 992v5M834.6 728v49M843.6 739v34M843.6 890v26M846.6 799v57M846.8 923l-0.7 32M855.6 807v51M856.2 982l-1.3 18M858.6 855v22M864.6 808v31M867.6 771v47M867.7 930v15M870.6 849v36M870.6 885v34M870.7 918v26M870.9 943l-0.8 22M873.6 867v25M876.6 757v46M876.6 851v33M879.6 751v27M879.7 827v52M885.6 833v42M888.6 843v42M891.6 817v27M892 982l-1.1 12M906.6 839v27M915.6 819v36M921.6 755v26M921.9 914l-0.8 34M922.1 947l-1.2 21M924.7 786v58M936.6 864v34M939.8 764l-0.5 68M942.6 873v18M951.7 755v55M951.8 928l-0.6 19M960.6 830v22M960.9 981l-0.8 8M1005.7 836v44M1014.7 883v39M1027.2 960l-1.4 14M1032.7 897v32M1039.4 978l-1.9 13M1050.7 872v40M1053.7 818v29M1059.7 871v41M1065.7 918v13M1071.8 801l-0.5 45M1074.6 891v24M1077.8 772l-0.6 47M1080.7 879v37M1081.1 974l-1.3 9M1092.8 846l-0.6 47M1125.7 893v25M1134.9 767l-0.7 51M1134.7 864v22M1135.7 953l-2.4 20M1138.6 957l-2.2 17M1140.8 873l-0.5 38M1143.6 881v20M1143.8 933l-0.6 11M1147.4 950l-1.7 16M1161.8 845l-0.6 39M1165.1 966l-1.1 8M1173.8 861l-0.5 33M1182.6 874v16M1188.8 867l-0.6 40M1194.8 907l-0.5 20M1200.7 833v31M1206.9 908l-0.8 26M1218.9 804l-0.7 44M1225.2 955l-1.5 11M1231.3 935l-1.6 19M1251.9 831l-0.8 46M1260.7 841v22M1260.7 882v26M1269.8 881l-0.5 29M1272.8 857l-0.6 31M1297.2 748l-1.4 73"/>
<path stroke="#2fa4ff" d="M120.3 801l6.5 36M135.7 901l5.6 18M150.3 778l12.4 74M243.4 939l6.2 19M250 945l5.1 16M271.6 955l3.9 12M273.1 967l0.7 3M273.2 808l6.6 47M278.9 838l7.2 43M312.1 931l6.8 25M328 894l5.0 25M340.1 950l4.7 18M348.4 916l6.1 27M390.9 907l5.1 27M429.7 898l5.5 35M434.1 924l2.8 16M446.2 924l2.6 16M481.7 941l3.5 23M491.2 749l2.6 41M502.3 826l4.3 58M506.6 948l1.8 13M509.9 976l1.3 9M511.8 896l3.5 33M512 940l3.1 23M518.7 876l1.7 20M520.7 902l3.6 34M524.4 795l2.2 42M532.7 782l3.6 72M536.1 831l2.7 45M535.9 916l3.2 31M542.3 849l2.3 37M542.7 885l1.5 19M545.2 841l2.6 43M548.7 770l1.5 35M548.4 804l2.2 47M548.3 923l2.5 25M551.7 908l1.5 18M554.9 777l1.2 29M560 870l3.0 44M566.2 886l2.6 37M581.5 844l2.0 42M584.5 847l1.9 41M594.1 783l0.8 28M596.7 871l1.6 33M597.1 904l0.8 14M599.6 952l1.9 25M605.9 912l1.3 23M623.8 958l1.4 24M636.1 800l0.9 47M639.2 827l0.6 30M645.1 947l0.9 23M651 927l1.0 32M657.1 812l0.7 54M660.1 937l0.8 29M663.3 782v43M693.5 950v13M702.5 762v44M708.5 759v65M714.5 845v28M726.5 928v21M726.5 948v14M729.5 851v42M732.5 864v44M738.5 864v37M741.5 897v20M750.6 757v72M750.6 829v57M750.5 885v23M753.6 909v33M753.6 954v12M759.5 845v22M759.5 867v30M762.5 888v20M768.6 787v60M771.5 872v28M777.5 813v36M777.6 891v39M783.5 742v14M783.6 870v43M786.6 784v72M792.5 874v21M792.6 924v24M795.6 780v46M798.6 876v41M801.6 865v44M804.6 784v31M810.6 747v57M810.6 846v38M813.6 809v63M813.7 943v15M816.6 765v56M819.6 893v27M822.7 943v13M825.7 915v34M826 979l-1.0 18M828.6 805v63M828.6 867v26M828.7 922v29M832.1 971l-1.2 21M834.6 777v37M834.6 843v42M834.6 885v23M852.6 838v34M858.6 822v33M873.7 979v6M882.6 878v29M882.8 942l-0.7 18M891.6 870v22M894.7 751v68M906.6 866v29M909.7 849v44M912.7 748v60M915.6 785v35M918.9 940l-0.8 18M939.6 746v19M949.1 964l-1.2 14M954.6 874v22M964.7 977l-2.4 20M969.8 771l-0.5 58M987.9 910l-0.8 34M1000 935l-1.0 20M1005.6 880v17M1026.8 932l-0.5 12M1030.2 929l-1.5 28M1059.7 986v3M1068.8 823l-0.6 50M1077.7 871v40M1086.7 858v36M1101.7 880v24M1104.7 883v26M1107.9 776l-0.8 60M1107.6 872v19M1110.8 834l-0.6 48M1114 927l-1.0 19M1137.6 732v13M1140.7 850v23M1149.8 855l-0.6 43M1158.7 857v31M1164.7 827v24M1170.8 844l-0.5 36M1176.7 873v22M1180 937l-1.0 14M1180.3 950l-1.6 14M1194.6 870v17M1194.7 886v21M1197.7 885v25M1206.8 876l-0.5 33M1207.7 947l-2.4 20M1236.8 896l-0.5 25M1248.8 870l-0.7 38M1251.7 877v19M1254.8 890l-0.6 31M1266.8 843l-0.7 38M1269.9 840l-0.8 41M1287.9 825l-0.7 38"/>
<path stroke="#71c0ff" d="M194.3 836l8.5 43M208.4 867l4.3 20M211.3 966l4.3 11M229.4 752l4.3 30M359.9 931l7.1 30M370.9 894l3.2 18M377.2 985l2.7 10M383.4 952l2.3 10M393.8 899l5.3 30M405.4 893l6.3 37M424.3 790l4.3 51M448.2 944l4.6 25M478.9 752l3.2 49M488.3 934l2.5 17M496.9 798l3.2 50M503.7 741l1.6 27M506.2 820l2.5 39M515.3 886l2.5 26M518.8 896l1.4 15M518.4 910l2.3 21M521 804l3.0 53M527.6 856l1.9 26M530.2 826l2.5 42M530 867l3.1 39M533.3 875l2.4 29M533.4 904l2.1 22M535.8 875l3.4 41M548.2 892l2.6 31M551.5 925l1.9 20M560.2 752l2.7 66M560.4 913l2.3 27M563.8 906l1.4 19M569.8 825l1.3 30M576 760l1.1 30M590.5 810l2.0 56M590.5 865l2.0 40M594 979l1.1 13M596.9 785l1.2 42M596.9 951l1.1 15M599.6 878l1.8 37M602.5 788l2.0 69M612.1 921l0.9 16M615.1 759l0.7 29M617.9 906l1.1 24M636.2 771l0.5 30M636 937l1.0 24M642.2 776l0.5 33M642.3 946v12M648.1 779l0.8 57M666.3 777v48M669.2 824l0.6 59M672.3 761v54M678.3 774v70M684.4 771v40M687.4 775v74M690.5 770v51M690.5 820v40M693.5 764v70M696.5 762v56M714.5 808v38M714.5 873v26M723.5 761v75M726.5 784v68M732.5 808v57M744.5 859v40M747.5 885v22M753.5 863v47M756.5 887v41M762.6 907v34M768.5 759v29M768.5 888v31M768.5 918v13M774.5 896v20M774.9 977l-0.7 21M777.5 872v19M780.5 862v19M789.6 755v64M789.5 865v27M792.8 947l-0.6 26M795.5 752v28M795.6 881v34M795.6 915v25M798.6 769v53M798.6 821v36M798.5 856v22M801.6 925v15M813.5 871v21M840.9 947l-0.8 23M849.6 838v27M852.8 953l-0.5 13M855.6 857v39M891.6 843v27M891.9 972l-0.7 11M894.6 819v25M897.6 754v41M897.7 794v56M904.3 967l-1.7 21M909.6 759v31M918.8 771l-0.5 72M930.7 753v52M961 988l-0.9 8M1029.9 967l-0.9 8M1038.7 846v38M1042.2 975l-1.4 10M1065.9 972l-0.8 6M1069 920l-1.0 25M1077.7 964v4M1086.9 951l-0.8 9M1107.7 890v31M1156 939l-0.9 12"/>
<path stroke="#b5dcff" d="M506.2 858l2.6 31M509.2 823l2.7 40M511.9 832l3.2 45M515.2 912l2.6 24M531.2 992l0.5 4M551.7 887l1.6 22M602.6 896l1.8 34M605.9 889l1.1 24M609 892l1.1 23M614.6 787l1.8 71M630.2 822l0.5 24M630 926l0.9 22M632.9 770l1.2 64M642.1 809l0.8 45M657.3 779v34M660.3 781v35M663.1 824l0.8 61M666.4 824v29M675.3 812v59M678.3 844v45M681.4 780v60M687.4 849v38M702.5 896v19M705.5 783v43M711.5 869v21M714.5 929v29M720.5 868v37M729.5 759v57M729.5 815v37M732.5 908v19M735.5 835v55M741.5 846v51M741.5 916v16M744.5 899v24M747.6 906v30M750.6 908v33M759.6 897v39M765.6 782v66M771.6 899v30M813.6 891v33M816.6 856v47M819.6 862v31M822.5 868v18M831.6 871v27M840.6 876v38M843.6 839v52M846.6 855v39M861.6 866v35M885.6 927v13M915.7 740v46M924.6 754v33M939.9 971l-0.9 10M987.7 976v4M1006.2 985l-1.4 10M1027 983l-1.0 7M1102.1 971l-1.3 9M1111.3 949l-1.6 16M1123.3 963l-1.6 12M1239.7 872v20"/>
<path stroke="#e0f0ff" d="M501.5 922v23M527.5 882l2.0 24M542.4 904l2.3 25M608.9 814l1.3 44M623.8 875l1.4 38M633.1 912l0.7 19M642.3 957v11M645 901l0.9 31M648 835l1.1 55M654.2 892l0.6 26M657.3 930v13M666.3 895v26M666.2 921l0.6 32M669.3 927v25M684.4 911v26M690.5 931v25M696.5 924v31M699.5 840v37M699.5 876v28M702.5 871v25M702.5 914v23M705.5 865v50M711.5 917v25M723.5 923v14M726.5 876v20M744.5 766v47M852.6 809v30M864.5 881v18M981.9 910l-0.8 33M1011.9 963l-0.8 8M1056.7 870v35"/>
<path stroke="#ffffff" d="M453.5 762v40M453.5 801v28M456.5 768v38M456.5 805v49M459.5 752v25M459.5 776v59M459.5 835v50M462.5 763v28M462.5 791v47M462.5 837v29M462.5 866v25M465.5 769v25M465.5 793v40M465.5 832v43M465.5 875v22M468.5 751v33M468.5 783v41M468.5 824v33M468.5 856v35M468.5 891v28M468.5 918v31M471.5 763v69M471.5 831v26M471.5 857v39M471.5 895v26M471.5 920v24M471.5 944v13M471.5 956v20M474.5 750v56M474.5 806v27M474.5 832v46M474.5 877v35M474.5 911v18M474.5 929v18M474.5 946v18M474.5 963v15M477.5 764v61M477.5 824v35M477.5 858v18M477.5 876v19M477.5 895v25M477.5 919v22M477.5 941v22M477.5 963v15M477.5 977v3M480.5 801v56M480.5 855v30M480.5 885v36M480.5 920v24M480.5 944v24M483.5 776v47M483.5 822v36M483.5 857v44M483.5 901v19M483.5 919v23M486.5 790v30M486.5 820v42M486.5 862v43M486.5 904v15M486.5 919v23M489.5 809v24M489.5 832v45M489.5 877v35M489.5 911v24M492.5 832v55M492.5 887v25M492.5 911v33M495.5 808v58M495.5 866v28M495.5 894v16M495.5 909v21M498.5 847v37M498.5 884v33M498.5 916v21M500.7 823l1.6 25M501.5 848v35M501.5 882v21M501.5 902v21M504.5 884v28M504.5 911v32M507.5 889v30M510.5 905v36M593.4 811l2.2 62M596.7 826l1.7 46M599.7 834l1.7 45M602.7 856l1.7 41M606 827l1.1 33M605.9 860l1.2 30M608.8 857l1.4 35M611.7 824l1.7 54M612.1 877l0.8 20M611.9 897l1.2 25M614.9 858l1.1 32M614.7 889l1.5 34M618.1 824l0.9 32M618.2 855l0.6 20M617.9 874l1.3 33M620.8 859l1.4 40M621.1 899l0.8 20M623.9 834l1.1 42M624.1 913l0.8 18M626.7 800l1.6 67M626.9 867l1.2 36M630.2 845l0.5 21M630.2 865l0.6 20M630.1 884l0.7 22M630.1 905l0.8 22M633.1 833l0.7 31M633 864l0.9 32M633.2 896l0.6 17M636.2 846l0.6 26M635.8 871l1.4 45M636.1 916l0.8 22M639 856l0.9 38M639 893l0.9 29M639.2 921l0.6 16M642 853l0.9 40M642.2 892l0.5 18M641.9 910l1.2 36M644.9 851l1.1 50M648.2 890l0.6 23M648.3 912v16M648.2 927l0.6 20M651 835l1.0 56M651.3 890v16M651.2 906l0.6 22M654 838l0.9 55M654.3 918v19M657.3 866v28M657.1 893l0.8 38M660.2 844l0.6 40M660.2 884l0.5 28M660.2 911l0.6 26M663.2 885l0.7 38M663.2 922l0.5 24M666.4 852v20M666.3 872v24M669.3 882v26M669.3 907v20M672.4 865v21M672.3 885v32M672.4 917v19M675.3 871v32M675.3 903v39M678.4 889v21M678.4 909v18M678.4 927v21M681.4 868v40M681.4 908v20M681.4 927v14M684.4 855v38M684.4 893v18M687.4 886v27M687.4 913v34M690.4 859v47M690.5 906v26M693.5 864v33M693.5 931v19M696.5 888v23M696.5 910v15M699.5 904v22M699.5 925v30M702.5 805v35M705.5 914v27M708.5 863v48M708.5 910v28M711.5 890v28M714.5 898v17M714.5 915v14M717.5 887v34M717.5 921v20M720.5 904v17M720.5 920v24M723.5 892v32M726.5 895v33M729.5 893v34M732.5 772v37M735.5 890v37M738.5 901v32M771.6 772v69M801.6 939v14M915.9 988l-0.8 8M991.1 968l-1.2 12M994.1 979l-1.2 10M1090.3 960l-1.6 14M1158.8 934l-0.7 11"/>
</g>
<g stroke-width="4.1">
<path stroke="#000070" d="M182.6 994l3.8 10M201.2 1047l4.6 12M208.5 1021l5.3 14M224.6 1002l3.4 9M247.2 1045l3.8 10M250.7 1064l4.5 12M250.3 1118l5.2 14M258.9 1080l3.2 9M262.3 991l4.0 11M261.7 1096l5.2 14M281.5 1095l3.7 10M285.2 987l3.8 11M288.6 1095l4.7 12M300.8 1067l3.0 8M307.1 1032l5.7 16M308 1136l3.8 11M312.2 1044l3.0 8M315.9 1165l3.1 9M319.8 1075l2.9 9M330.9 1121l3.6 11M338.4 1159l3.8 11M349.9 1028l3.6 11M354.6 1147l1.8 6M368.8 1020l3.7 12M381.1 1211l2.1 7M392.6 1115l1.8 7M396 1081l2.7 10M396.2 1132l2.2 8M403.5 1058l2.8 10M403.2 1077l3.5 13M407.3 1208l2.8 11M415.7 1228l1.2 5M419 972l2.1 10M419.2 1116l1.9 7M423 1209l1.8 7M425.7 992l4.1 17M426.6 1242l2.1 9M430.9 1126l1.1 5M437 998l4.1 18M437.9 1222l2.5 10M441.8 1058l2.3 10M442.3 1128l1.2 5M464.3 1069l2.9 13M469 1188l1.1 5M472 1102l2.6 12M475.6 995l3.1 16M476.4 1087l1.5 7M476.5 1143l1.2 6M476.5 1173l1.2 6M476.3 1256l1.6 8M480.3 1267l1.2 6M487.4 1088l2.3 12M487.7 1164l1.7 9M487.6 1272l1.9 10M495.4 1130l1.4 8M495.3 1156l1.6 9M499 1183l1.9 10M503.1 1017l1.1 7M502.9 1177l1.7 10M510.9 1129l0.8 5M514.4 1080l1.4 8M521.9 1039l1.7 10M522.1 1253l1.2 8M521.9 1270l1.6 10M526.1 1100l0.9 6M533.4 1237l1.4 9M537 1146l1.7 12M544.8 1071l1.4 10M545.2 1164l0.6 5M544.9 1198l1.2 9M548.7 1236l1.2 9M556.6 1183l0.6 5M556.6 1249l0.5 4M560 1020l1.4 11M571.5 1199l1.2 10M571.6 1246l1.1 9M575.4 1238l1.0 9M575.7 1253v5M583.2 1234l0.7 7M590.9 1292v5M594.4 1167l1.1 11M598.3 1078l0.8 9M598.2 1134l0.9 10M606 1234l0.7 8M617.2 1043l1.1 14M617.3 1255l0.7 10M625 1286l0.5 8M636.4 1095l0.7 12M636.5 1273v8M644.1 1288v10M647.9 1058v9M648 1139v5M651.7 1003v8M651.8 1154v5M651.8 1252v6M659.4 1270v6M663.2 1166v7M667 1270v9M670.8 1084v12M670.9 1239v4M674.6 1128v7M678.4 1198v11M682.2 1118v11M682.3 1247v4M686.1 1152v10M689.9 1240v10M693.7 1116v10M693.7 1192v7M693.7 1291v4M697.5 1009v8M697.5 1116v11M701.3 1156v5M701.3 1179v9M705.1 1297v10M705.1 1306v9M708.9 1086v9M709 1094v11M709 1141v12M712.8 1221v9M712.8 1277v8M716.6 1234v7M720.4 1219v7M720.4 1292v10M728 1174v10M731.8 1029v8M731.8 1122v5M739.5 1010v16M739.4 1204v5M739.4 1243v8M743.2 1112v7M743.2 1199v5M743.3 1259v10M750.9 1031v10M754.7 1256v7M758.7 1043l-0.7 14M766.1 1270v7M769.9 1260v8M770 1267l-0.6 10M773.8 1264l-0.6 9M781.6 1037l-1.1 15M785.1 1009v8M785.2 1251l-0.6 8M789.1 1054l-0.9 11M792.7 1146v6M792.9 1273l-0.8 9M800.6 1129l-0.9 10M800.4 1254l-0.6 6M804.4 1040l-1.1 12M804.2 1176l-0.6 6M804.3 1187l-0.9 9M804.3 1266l-0.7 8M808.2 982l-1.0 19M807.9 1014v7M808.2 1131l-1.0 10M812 1109l-1.0 10M815.7 1000l-0.7 11M819.4 1091l-0.6 6M834.8 1236l-1.0 8M846.1 1252l-0.9 7M850.1 993l-1.1 14M853.6 1285l-0.5 4M861.6 1070l-1.4 10M861.2 1171l-0.6 5M861.4 1255l-1.1 8M865.5 1139l-1.6 11M869.2 1100l-1.5 10M873 1264l-1.5 10M876.6 976l-1.0 14M880.8 1024l-1.8 14M880.8 1204l-1.7 11M884.2 1246l-1.0 6M884.4 1252l-1.4 9M892.1 1043l-1.5 10M910.8 1249l-0.9 5M918.5 1053l-1.1 6M922.2 999l-1.0 8M926.5 1004l-1.9 14M926.1 1017l-1.1 8M930.4 1175l-2.2 11M933.9 1105l-1.7 8M933.9 1132l-1.6 8M945.4 972l-1.7 17M945.2 1048l-1.5 8M949.5 1060l-2.4 11M949.5 1097l-2.3 11M960.8 1029l-2.2 11M965 1070l-2.9 12M971.8 1151l-1.5 6M971.7 1195l-1.3 6M975.9 1100l-2.1 9M980 995l-2.6 17M980.1 1026l-2.8 13M980 1174l-2.6 11M984.1 1038l-3.2 14M983.2 1108l-1.4 6M987.5 1129l-2.3 9M994.9 988l-2.0 13M999.1 1129l-2.9 11M999 1191l-2.5 10M1013.6 1203l-1.5 6M1017.4 1021l-1.3 6M1021.9 1206l-2.8 10M1025.7 1011l-2.8 13M1036.7 1166l-2.1 7M1056.3 1188l-3.2 10M1067.3 1116l-2.5 8M1071.2 1094l-2.6 8M1074.9 1116l-2.4 8M1090.4 1096l-3.1 9M1102.2 1079l-3.7 11M1125.3 1094l-4.4 12M1139.3 1115l-2.0 6M1158.9 997l-3.1 12M1166.6 1071l-3.3 9M1169.4 982l-1.4 7M1181.8 1036l-3.4 9M1192.8 1004l-2.6 9"/>
<path stroke="#000885" d="M197.6 1015l4.2 11M209.3 974l3.7 10M227.7 997l4.8 12M228 1062l4.2 11M231 1047l5.8 15M234.5 1046l6.4 17M255.5 1094l2.4 6M263.1 1063l2.3 6M266.1 1102l4.0 11M282.2 1116l2.3 6M288.7 1153l4.5 12M296 1043l4.9 13M297.2 1095l2.7 7M296 1117l5.0 13M307.8 1010l4.2 12M311.7 1151l4.0 11M311.7 1169l4.1 11M318.9 971l4.9 16M319.2 1083l4.1 12M322.9 980l4.4 14M323.7 1055l2.8 8M323.2 1069l3.9 11M324 1110l2.2 7M331.3 1156l2.7 8M335.7 1180l1.6 5M339.2 1092l2.2 7M339 1187l2.7 8M346 1062l3.7 11M350.4 1038l2.7 8M365.8 1005l2.2 8M368.3 992l4.8 17M376.8 1088l3.0 10M384.5 1176l2.9 10M385 1201l1.8 6M388.3 1090l2.8 10M392 1105l3.0 11M392.3 1187l2.5 9M399.5 1143l3.1 11M404 1138l1.7 7M407.9 1153l1.6 6M426.5 1204l2.4 10M430.3 1110l2.4 10M430.7 1238l1.7 7M441.2 1032l3.4 14M441.6 1077l2.7 11M442.4 1237l0.9 4M446 1080l1.4 6M446 1187l1.4 6M449 1006l3.0 14M464.7 1226l2.1 10M468.9 1233l1.2 6M472.7 1077l1.2 6M479.7 1050l2.5 12M480.3 1219l1.3 7M483.9 1022l1.5 8M483.8 1051l1.7 9M487.5 1037l2.0 10M491.2 1019l2.3 12M491.2 1170l2.1 11M491.7 1201l1.2 7M499.2 1164l1.4 8M502.7 1167l1.9 11M506.4 1059l2.2 13M506.6 1141l1.8 10M514.4 1057l1.3 8M522.2 1169l0.9 6M529.9 1128l0.8 6M529.7 1257l1.3 8M537.3 1098l1.2 8M537 1135l1.7 11M541.2 1117l1.0 7M545.2 1131l0.6 5M548.7 1201l1.2 9M556.5 1243l0.9 7M564.2 1142l0.6 5M567.7 1138l1.2 10M579.1 1149l1.2 11M590.8 1173l0.6 7M590.8 1256l0.5 6M598.3 1056l0.9 10M598.4 1186l0.6 7M605.9 1186l0.8 9M609.7 1141l0.8 10M617.3 1095l0.8 11M621.3 1039v7M624.9 1058l0.8 13M625 1267l0.6 9M628.7 1040l0.8 13M628.9 1071v7M632.6 1040l0.7 12M632.7 1051v7M636.3 1051l0.8 14M644.1 1025v10M647.9 1233v8M651.7 1287v9M659.3 1060v11M659.4 1156v6M663.2 1301v6M666.9 1005v13M666.9 1056v15M678.4 1017v12M678.4 1157v7M686 1044v15M689.9 1160v6M689.9 1205v5M693.7 1077v7M693.7 1205v6M693.7 1256v8M697.5 1199v10M697.5 1268v5M701.3 1188v11M705.1 1224v8M712.7 1304v6M716.5 1296v5M720.4 1129v6M720.4 1238v7M724.2 1148v6M728 1159v6M728 1217v5M728 1247v8M731.9 1141v11M731.8 1249v7M735.6 1168v6M735.6 1252v8M739.5 1096v11M743.2 999v11M743.3 1024v10M743.4 1034l-0.5 14M743.3 1277v8M747 1300v6M751 1089l-0.5 11M754.7 1202v8M762.4 1042l-0.7 13M762.2 1207v5M766.1 1155v7M769.9 1050v6M777.6 1089l-0.7 9M781.5 1013l-0.7 13M781.3 1085v5M781.5 1128l-0.8 11M785.1 1070v7M785.2 1183l-0.6 7M789.1 1236l-0.8 10M792.7 1108v6M800.6 1224l-0.9 10M812 1207l-1.1 11M811.9 1263l-0.7 7M819.4 1111l-0.5 5M823.5 1105l-1.2 11M827 1220l-0.6 5M827 1230l-0.7 6M834.7 994l-0.7 10M838.5 1169l-0.7 6M842.1 1263v4M846.1 1220l-0.8 6M846.2 1266l-1.0 8M854 1133l-1.3 10M857.7 1266l-1.2 9M865.1 1169l-0.7 5M876.9 1093l-1.7 11M880.6 1189l-1.3 8M884.2 1018l-1.1 9M895.6 1056l-1.0 6M900 1086l-2.2 12M900 1097l-2.2 12M907 1000l-1.0 9M911 1011l-1.3 10M911 1127l-1.5 8M926.6 1051l-2.2 11M926.3 1100l-1.6 8M937.9 1186l-1.9 9M945.7 1083l-2.5 11M949.4 1070l-2.2 10M968.7 1088l-2.7 12M983.5 1123l-1.9 8M987.2 1173l-1.7 7M991.1 1095l-2.1 8M999 1152l-2.6 10M1003.1 1089l-3.2 12M1002.9 1198l-2.7 10M1014.3 1084l-2.7 10M1013.6 1139l-1.4 5M1025.1 1023l-1.6 7M1029.1 1194l-2.0 7M1033.2 1130l-2.7 9M1036.5 1022l-1.5 7M1051.6 1092l-1.5 5M1060.6 1062l-4.2 13M1062.8 969l-0.9 8M1064.2 1022l-3.7 14M1066.9 1159l-1.7 5M1071.6 1129l-3.4 10M1075.2 1076l-3.0 9M1082.9 1087l-3.3 10M1082.1 1162l-1.5 5M1094.2 1051l-3.1 9M1106.2 1105l-4.2 12M1106 1146l-3.8 11M1108.6 995l-1.4 7M1109.2 1142l-2.7 8M1120.3 1054l-1.9 6M1128.8 1059l-3.8 10M1140.4 1066l-4.2 11M1143 976l-1.9 11M1151.7 1081l-4.0 11M1155 962l-3.0 20M1166.8 1026l-3.7 11M1185.2 982l-2.7 12M1189.2 1010l-2.9 10M1200.4 1020l-2.6 8M1227.5 999l-3.6 12"/>
<path stroke="#001799" d="M134 954l9.8 25M161.7 988l7.5 19M204.5 1051l5.7 15M212.7 962l4.5 12M232.4 1062l3.0 8M232.2 1069l3.4 9M234.2 989l7.0 18M236 1038l3.4 9M239.1 1081l4.8 13M262.8 1001l2.9 8M262.3 1086l4.0 11M265.5 1089l5.3 14M270.7 1102l2.4 7M272 1008l7.3 19M273.3 1026l4.9 13M278.3 1094l2.3 6M277.5 1100l3.9 10M292.2 1037l5.0 13M292.3 1135l4.7 13M297.3 1077l2.4 7M307.8 1077l4.2 12M307.7 1163l4.4 12M312.1 1035l3.2 9M327.5 1071l2.7 8M339.4 1182l1.7 6M342 1062l4.3 13M345.9 987l4.1 14M346.5 1000l2.7 9M346.7 1125l2.3 7M354.5 1125l2.0 7M353.7 1131l3.6 11M357 1049l4.7 15M360.6 1033l5.0 16M369.1 1068l3.2 10M369.4 1139l2.7 9M369.5 1172l2.4 8M375.9 989l4.7 17M384.9 1156l2.1 7M392.8 1083l1.4 5M400.4 1168l1.3 5M407.4 1199l2.5 9M418.9 1020l2.5 10M419.2 1139l1.8 7M418.9 1172l2.4 10M426.8 1092l1.8 7M434.7 1209l1.2 5M438 1188l2.1 9M449.6 973l1.7 9M453.2 1157l2.2 10M460.5 1029l2.8 13M460.9 1103l2.1 9M464.2 1010l2.9 14M464.9 1146l1.6 7M472.7 1223l1.3 6M476.2 1010l1.7 9M475.8 1058l2.7 13M476.2 1155l1.9 9M487.6 1141l1.8 9M495.7 1212l0.8 5M499.1 1063l1.6 9M499.1 1102l1.5 8M507 1112l1.0 6M506.8 1228l1.5 9M510.7 1034l1.2 7M514.3 1120l1.7 10M514.4 1240l1.3 8M518.2 1089l1.3 8M518.3 1109l1.2 8M522 1057l1.3 8M522.2 1210l1.1 7M529.8 1115l1.1 7M529.9 1239l0.9 6M533.5 1100l1.2 8M537.3 1021l1.2 8M537 1046l1.8 12M536.9 1064l2.0 14M540.6 1038l2.3 15M541 1087l1.5 10M541 1159l1.4 10M541.3 1183l0.8 6M541 1281l1.3 9M548.5 1002l1.6 12M548.9 1167l0.8 6M556.4 1037l0.9 7M556.5 1222l0.7 6M563.8 1113l1.5 12M567.6 1111l1.4 12M567.9 1252l0.8 7M571.6 996l1.0 10M575.2 1067l1.5 13M575.4 1144l1.1 10M579.2 1284l1.1 10M582.9 1080l1.2 11M583.1 1091l0.7 7M586.8 1172l1.1 11M586.7 1197l1.1 11M598 1033l1.4 16M598.2 1240l0.9 10M605.8 1020l0.9 11M613.5 1111l0.7 10M613.6 1144l0.5 7M613.7 1161v6M613.6 1289l0.5 7M617.4 1264l0.5 7M621.2 1083l0.6 8M621.2 1254l0.6 9M625 998l0.5 8M628.8 1263l0.6 9M632.6 1270l0.5 9M636.4 1161l0.6 11M636.5 1207v9M640.3 1083v8M644 1070l0.5 11M644.2 1192v6M648 1177v6M651.7 1146v9M651.8 1296v7M655.5 1125v10M655.6 1209v7M655.6 1221v6M659.4 1122v7M659.3 1202v10M659.4 1275v9M663.2 1180v8M670.8 1129v8M674.6 1179v8M682.2 1128v9M682.3 1196v6M689.9 1170v5M689.9 1261v9M693.7 1276v5M701.3 1039v10M705.1 1191v5M705.1 1265v4M709 1020v13M709 1074v12M709 1202v10M716.6 1051v12M716.6 1062v14M716.6 1099v9M720.4 1060v13M724.2 1302v7M731.8 1007v7M735.6 1259v5M739.6 1063l-0.5 14M739.4 1250v4M739.5 1305v8M743.2 1178v7M743.3 1190v10M743.2 1252v7M754.9 1031l-0.7 16M754.7 1090v7M754.7 1110v7M758.4 1135v5M758.4 1272v6M758.4 1286v4M762.3 1054v7M762.4 1061l-0.5 9M762.3 1211v6M766.3 1085l-0.7 12M766 1231v5M770 1068l-0.6 10M769.9 1149v6M770 1214l-0.6 10M769.9 1244v7M769.9 1254v6M777.7 1047l-0.7 10M785.3 1129l-0.7 9M789.2 1102l-1.0 12M789.1 1166l-0.8 10M789 1223l-0.6 8M796.6 1253l-0.5 6M800.5 1269l-0.8 8M804.1 1172v5M808.1 1251l-0.8 8M807.9 1280v5M823.6 1063l-1.5 13M823.4 1144l-1.0 9M827 1169l-0.6 5M827.2 1272l-1.0 9M831.1 1119l-1.2 10M834.7 1192l-0.8 7M834.7 1270l-0.8 7M838.7 1030l-1.1 11M838.6 1260l-1.0 8M842.4 1126l-1.0 8M857.7 1258l-1.2 9M861.6 1000l-1.4 14M861.5 1190l-1.2 8M869.3 1090l-1.6 11M869 1121l-1.0 7M873 1042l-1.3 10M876.7 1000l-1.3 13M876.4 1272l-0.6 4M892.1 992l-1.7 16M891.7 1111l-0.9 5M899.7 1177l-1.5 9M907.3 1238l-1.7 9M915.2 1069l-2.2 12M915 1251l-1.7 9M918.6 1059l-1.5 8M922.8 1072l-2.3 11M922.5 1204l-1.5 8M922.6 1262l-1.7 9M926.9 1024l-2.7 16M941.7 1124l-2.1 10M956.6 1175l-1.4 7M956.5 1193l-1.2 6M960.9 1117l-2.3 10M972.3 1005l-2.4 14M971.9 1065l-1.5 7M976.2 1192l-2.6 11M980.3 1039l-3.3 14M983.6 1199l-2.2 9M995.4 1152l-2.9 11M998.4 1140l-1.3 5M998.7 1225l-1.9 8M1002.7 968l-2.3 20M1006.2 988l-1.7 12M1006 1141l-1.4 5M1006.8 1146l-3.0 11M1017.3 999l-1.1 7M1028.8 1006l-1.4 7M1037 1192l-2.6 9M1040.7 1106l-2.5 8M1044 1131l-1.4 5M1048.5 1039l-2.8 10M1049 1087l-3.7 12M1048.4 1104l-2.6 9M1052.7 1056l-3.7 12M1055.5 1106l-1.6 5M1056.3 1179l-3.2 10M1059.5 1181l-2.0 7M1075.6 1055l-3.8 12M1078.8 1043l-2.5 8M1079.3 1084l-3.6 11M1093.4 998l-1.4 7M1093.7 1109l-2.0 6M1094.5 1146l-3.6 10M1102.3 1043l-4.1 12M1101.3 1074l-1.9 6M1109.1 982l-2.5 14M1117.6 1102l-4.2 11M1125 991l-3.8 17M1128.4 1002l-3.0 12M1140.4 993l-4.1 17M1150.7 991l-2.0 9M1154.7 1095l-2.4 7M1163.1 1042l-4.0 11M1185.4 993l-2.9 12M1197.9 1018l-5.3 15M1223.5 977l-3.3 15"/>
<path stroke="#002daf" d="M166.1 967l6.4 17M195.6 975l8.3 21M208.1 1065l6.0 16M221.3 1071l2.5 7M223.5 1076l5.5 14M243.3 976l3.9 11M257.7 1096l5.6 15M265.7 1132l4.8 13M278.3 1077l2.4 7M291.7 981l5.9 17M301 989l2.7 8M301 1075l2.5 7M304.7 1064l2.8 8M303.8 1140l4.5 12M307.8 1146l4.3 12M312.2 1069l2.9 8M315.4 973l4.3 14M314.4 986l6.3 19M320.1 1128l2.4 7M319.2 1144l4.2 12M319.6 1162l3.3 10M323.5 1087l3.2 9M324 1116l2.1 6M327.2 993l3.4 11M327.4 1159l3.0 9M330.6 1036l4.1 12M335 1161l3.1 9M339.2 1026l2.1 7M339.1 1047l2.4 7M350.4 1134l2.5 8M353.4 1052l4.1 13M357.3 1101l4.0 13M358.6 1179l1.4 5M357.5 1184l3.6 12M362.3 1078l1.6 6M368.9 1123l3.7 12M369.9 1134l1.5 5M376.8 1189l3.0 10M380.5 1181l3.2 11M384.7 993l2.5 9M388.3 1172l2.9 10M391.6 998l3.9 14M395.6 1058l3.4 12M399.8 1021l2.6 10M399.8 1081l2.7 10M404 1051l1.8 7M407.7 1028l2.1 8M411.8 1149l1.4 6M419.3 1081l1.6 7M423 1187l1.7 7M430.4 989l2.2 10M430.2 1141l2.6 11M434 1002l2.6 11M434.2 1095l2.1 9M434.5 1166l1.7 7M438.4 1083l1.4 6M438.6 1203l1.0 4M442 1113l1.8 8M441.8 1221l2.2 9M449.8 1196l1.4 6M452.7 1033l3.1 14M453.7 1216l1.2 6M456.6 1034l3.0 13M456.9 1170l2.3 10M457.3 1206l1.6 7M465.1 1257l1.1 5M468.5 1045l1.9 9M468.8 1163l1.4 7M468.8 1174l1.4 7M472.6 1178l1.4 7M472.7 1248l1.3 6M476.3 1136l1.6 8M479.7 995l2.4 13M479.8 1061l2.2 11M480.3 1208l1.2 6M484.1 1237l1.3 7M487.9 1216l1.1 6M491.2 1109l2.1 11M495.3 1137l1.6 9M495.3 1253l1.6 9M503.1 1206l1.2 7M506.7 1081l1.6 9M507 1223l0.9 5M507.2 1251l0.7 4M507.1 1272l0.8 5M510.6 1138l1.5 9M510.5 1174l1.6 9M514.4 1064l1.4 8M518.1 1033l1.5 9M529.8 1148l0.9 6M529.6 1279l1.5 10M537.5 1157l0.7 5M537.2 1187l1.3 9M541.1 1009l1.2 9M541.3 1107l0.9 6M540.8 1132l1.7 12M541.3 1239l0.8 6M541 1271l1.5 10M552.8 1183l0.6 5M560.3 1167l0.7 6M560.1 1257l1.2 9M563.8 1195l1.3 11M568 1175l0.7 6M568 1180l0.6 5M568 1207l0.6 5M567.8 1211l1.1 9M571.2 1019l1.7 15M571.5 1189l1.2 11M571.7 1208l0.8 7M571.7 1222l0.7 7M575.4 1175l1.0 9M575.3 1228l1.1 10M575.3 1285l1.1 10M579.3 1048l0.7 7M579.3 1186l0.9 8M579.2 1267l1.0 9M586.5 1023l1.7 16M586.9 1097l0.9 9M590.7 1067l0.9 9M590.8 1075l0.7 7M590.6 1230l0.9 10M590.7 1261l0.7 7M598.5 1093v5M602.3 1123v6M605.8 1104l1.0 12M605.9 1135l0.8 10M606 1172l0.7 8M605.9 1270l0.7 9M609.9 1092v5M609.8 1150l0.6 7M613.6 1273l0.5 7M617.5 1129v7M617.3 1185l0.7 10M621 1016l1.0 14M621.2 1146l0.6 8M621.4 1280v5M621.2 1284l0.7 10M625.1 1245v8M628.7 983l0.8 14M628.9 1243v8M629 1250v5M632.6 1248l0.6 10M632.7 1302v6M636.5 1302v8M640.3 1012v9M640.3 1208v9M643.9 1008l0.8 17M647.9 1143v9M647.9 1201v10M655.5 1071v13M659.3 1032v11M659.3 1212v9M663.2 1247v7M667 1018v8M666.9 1087v12M667 1229v10M670.9 1236v5M678.4 1171v11M682.3 1137v5M693.7 1241v4M693.7 1250v6M697.5 1072v14M697.5 1231v10M701.3 1095v10M701.3 1172v7M701.3 1198v8M701.3 1231v9M701.3 1239v10M701.3 1248v4M701.3 1285v6M705.1 1286v7M712.8 1189v9M712.8 1270v7M712.8 1291v7M716.6 1133v11M716.6 1274v7M720.4 1214v5M720.4 1231v8M728.1 1039v15M731.8 1045v10M731.8 1116v6M731.8 1244v6M731.9 1255v10M735.6 1224v8M739.5 1025v13M739.5 1076v10M739.5 1115v12M739.5 1179v9M739.5 1265v9M743.3 1069v8M747.1 1072v9M750.8 1175v6M754.6 1192v5M766.2 1216l-0.6 9M770 1011l-0.6 13M770 1124l-0.7 10M773.8 1094l-0.7 10M773.9 1153l-0.8 11M773.8 1193l-0.5 8M777.5 993v11M777.7 1037l-0.7 11M777.5 1078v6M781.3 1251v5M781.3 1256v6M789 1031l-0.6 9M792.9 1181l-0.8 10M793 1190l-0.9 11M796.5 1115v5M800.5 1056l-0.9 10M804.2 1182l-0.5 6M804.3 1282l-0.8 9M808 1151l-0.7 7M808.2 1179l-1.1 11M815.6 1090l-0.5 5M815.9 1191l-1.1 11M827.4 1006l-1.4 16M827.3 1154l-1.3 11M827.2 1263l-1.1 10M831.1 1190l-1.3 11M838.4 1232l-0.6 5M842.4 1267l-0.9 7M853.8 1007l-1.0 10M853.7 1148l-0.9 6M857.6 1184l-1.0 7M857.8 1191l-1.5 10M865.2 1174l-0.9 6M865.4 1247l-1.4 9M865.1 1256l-0.7 5M869.3 1127l-1.6 10M869.3 1146l-1.7 11M869.1 1271l-1.3 8M869 1279l-1.0 7M876.7 1275l-1.2 8M880.7 1011l-1.6 13M895.9 1142l-1.6 9M895.7 1201l-1.2 7M895.7 1244l-1.1 7M903.7 1001l-2.0 16M907.2 1067l-1.4 8M911.4 1159l-2.1 11M911 1220l-1.4 8M930.3 1010l-1.9 13M930.1 1257l-1.6 8M933.6 1189l-1.1 5M937.6 1208l-1.5 7M941.1 978l-0.9 9M945.6 1162l-2.1 10M952.8 1000l-1.5 10M956.4 1208l-1.0 5M960.3 1143l-1.2 6M960.9 1201l-2.3 10M964.4 1024l-1.9 10M964.5 1182l-1.9 8M964.6 1195l-2.2 9M968.2 1163l-1.8 8M971.7 1157l-1.3 6M983.2 1061l-1.5 6M983.5 1223l-2.0 8M987.2 992l-1.9 13M987.7 1046l-2.7 11M987.6 1153l-2.6 10M991.6 1047l-3.1 13M991.1 1064l-2.0 8M990.9 1220l-1.6 6M999.2 1162l-2.9 11M1003 1064l-3.1 12M1006.6 1156l-2.5 9M1006 1165l-1.4 6M1010.3 1057l-2.5 9M1014.1 967l-2.4 20M1014.5 1101l-3.2 12M1014.3 1112l-2.9 10M1013.6 1134l-1.5 6M1017.5 1014l-1.6 8M1018 1163l-2.6 9M1018.1 1172l-2.9 10M1021.3 1053l-1.5 6M1029.8 1098l-3.3 11M1033.4 1075l-2.9 10M1037 1011l-2.6 12M1040.4 1165l-1.8 6M1044.3 1073l-2.0 7M1044.4 1200l-2.2 7M1048 1156l-1.8 6M1048.1 1189l-2.0 7M1051.8 977l-1.8 13M1051.9 1132l-2.0 7M1060.2 1080l-3.3 10M1067.6 1091l-3.0 9M1075.3 1172l-3.1 10M1090.9 1054l-3.9 12M1097.5 1054l-1.9 6M1102.1 1007l-3.5 14M1102.1 1109l-3.5 10M1102.2 1129l-3.7 11M1109.7 1091l-3.6 10M1112.6 1046l-1.8 6M1113.1 1127l-2.8 8M1116.6 1051l-2.3 7M1121.4 1082l-4.2 11M1136.5 1066l-4.1 11M1135.6 1124l-2.3 6M1140.5 1029l-4.4 13M1166 1044l-2.3 6M1171.4 1038l-5.3 14M1173.8 999l-2.6 10M1177.3 961l-2.0 14M1177.9 1032l-3.1 9M1181.8 973l-3.3 17M1188.8 994l-2.1 9M1193.4 981l-3.8 17M1192.5 997l-1.9 8M1200.3 1035l-2.3 6M1216.2 997l-3.7 13"/>
<path stroke="#0041c3" d="M184.6 1031l7.3 19M220.2 1078l4.7 12M252.5 984l8.3 22M262 1075l4.5 12M274.2 1058l3.0 8M284.7 1118l4.8 13M289.1 1123l3.7 10M289.2 1144l3.4 9M293.5 1056l2.4 7M298.8 968l6.9 21M299.3 1013l6.0 16M300.1 1056l4.4 12M300.5 1081l3.7 10M315.7 1014l3.5 10M314.4 1024l6.2 17M316.4 1173l2.2 6M319.5 1181l3.6 10M323.3 1165l3.5 10M330.8 1169l3.8 11M334.8 1170l3.3 10M339.1 1012l2.3 7M338.3 1148l4.0 12M342.3 1093l3.6 11M342.2 1143l3.7 11M343.1 1191l2.0 6M346.6 1179l2.6 8M354.7 1096l1.6 5M354.5 1182l2.1 7M356.7 972l5.2 18M357.1 1016l4.4 14M360.8 1011l4.6 15M361.7 1157l2.9 9M365.9 1065l2.0 7M369.8 1112l1.8 6M373.4 1131l2.1 7M372.9 1163l3.2 11M377.5 1156l1.5 5M381.1 1165l1.9 7M384.3 1081l3.2 11M385.2 1121l1.3 5M388.4 1006l2.6 10M392.6 1182l1.7 6M395.6 1047l3.3 12M396.3 1110l2.0 7M395.9 1155l2.7 10M396.4 1164l1.8 7M396.3 1205l2.0 7M399.3 1057l3.7 13M400.2 1117l1.7 6M400.3 1138l1.7 6M399.7 1207l2.8 10M407.3 1049l2.7 10M407.6 1228l2.1 8M411.3 1118l2.3 9M411.3 1236l2.5 9M415.1 1077l2.5 9M415.6 1145l1.4 6M414.9 1178l2.8 11M418.1 999l4.0 16M418.7 1051l2.8 11M419.1 1109l2.0 8M419.5 1181l1.2 5M422.5 1136l2.8 11M426.6 1103l2.3 9M426.2 1112l3.0 12M427 1166l1.4 6M426.3 1190l2.8 11M430.4 1041l2.1 9M430.9 1130l1.2 5M430.9 1203l1.2 5M434.2 1179l2.1 9M434.1 1244l2.3 10M442.1 1155l1.5 7M442.4 1244l1.0 5M457.5 1067l1.1 5M457.6 1238l1.0 5M476.3 1110l1.6 8M476.6 1190l1.0 5M479.1 976l3.7 20M480.1 1163l1.6 8M480.3 1194l1.3 7M483.8 1166l1.9 10M488 1116l0.9 5M487.8 1243l1.3 7M491.8 1221l1.1 6M491.3 1260l1.9 10M502.9 1120l1.6 9M502.8 1149l1.8 10M503 1264l1.4 8M502.9 1276l1.6 9M506.3 1012l2.5 14M506.7 1176l1.6 9M510.3 1084l2.0 11M510.6 1183l1.3 8M514.2 1000l1.9 12M514.2 1198l1.7 10M518.3 1042l1.2 7M518.3 1184l1.1 7M518.2 1253l1.5 9M522.2 1163l1.1 7M521.9 1244l1.6 10M526 1234l1.1 7M529.7 1099l1.2 8M529.6 1139l1.5 10M529.8 1199l1.0 7M532.8 1025l2.5 16M533.5 1139l1.2 8M533.6 1176l1.0 7M537.4 1057l1.1 7M537.5 1123l0.7 5M537.2 1202l1.3 9M537.2 1219l1.3 9M537.2 1271l1.4 10M537.3 1280l1.3 9M540.6 977l2.1 16M541.1 1068l1.1 8M541.3 1234l0.8 6M541.2 1244l1.1 8M548.3 1027l2.1 15M552.5 1006l1.1 9M552.7 1125l0.9 7M555.9 1008l2.0 15M556.1 1054l1.7 13M556.2 1212l1.3 10M556.4 1282l0.9 7M556.4 1289l1.0 8M560.3 1049l0.8 7M560.3 1067l0.7 6M568 1192l0.6 5M568 1262l0.5 5M567.8 1275l1.1 9M571.5 1138l1.2 10M575 1027l1.8 16M575.3 1101l1.2 11M575.4 1203l1.1 9M579.1 1165l1.2 11M579.2 1294l0.9 9M583.1 1014l0.8 8M583.1 1143l0.8 8M583.2 1248l0.7 7M586.8 1163l1.0 10M590.6 1021l1.0 11M590.6 1031l1.1 11M594.6 1210l0.7 7M594.5 1289l0.9 10M598.3 1048l0.8 9M598.4 1120l0.6 6M609.9 1130v5M609.8 1302l0.5 7M613.4 1019l1.0 13M613.7 1183v5M621.3 1103v6M621.3 1119v5M621.3 1162v7M621.3 1266v5M625 1232l0.5 8M628.9 1238v5M632.6 1031l0.6 10M632.8 1279v5M636.4 1019l0.6 11M636.5 1215v8M636.5 1252v8M636.5 1260v8M636.5 1267v7M640.3 1229v8M644.1 1080v10M644 1123l0.6 12M647.9 1105v10M647.9 1216v8M648 1277v4M648 1280v5M648 1305v5M651.7 1101v9M651.8 1219v7M651.8 1302v6M655.5 1033v9M655.5 1187v9M655.6 1292v5M659.2 1002l0.5 16M659.4 1140v6M659.3 1187v11M659.4 1263v7M663.1 993v15M663.1 1008v17M663 1024l0.5 17M663.2 1159v8M667 1213v9M667 1243v5M667 1285v5M670.7 1047v13M670.8 1190v10M670.8 1301v8M682.3 1141v6M686.1 1118v10M686.1 1179v9M686.1 1245v5M689.9 1109v8M689.9 1201v5M689.9 1281v7M693.7 1083v8M693.7 1135v8M693.7 1180v9M697.5 1165v9M697.5 1216v7M701.3 1016v9M701.3 1059v6M705.1 1091v5M705.1 1195v5M708.9 1222v7M712.8 1147v11M712.7 1174v7M716.6 1107v10M716.6 1117v7M716.5 1208v4M720.4 1049v11M720.4 1154v5M724.2 1007v12M724.2 1103v7M724.2 1200v7M724.2 1232v5M724.1 1267v4M728 1123v7M731.9 1014v16M731.8 1271v6M735.7 1055v11M735.7 1082v11M735.7 1232v10M747 1241v6M751 1018l-0.5 13M751 1040l-0.7 15M751 1165l-0.5 10M758.4 1218v5M758.4 1239v6M758.6 1257l-0.5 9M762.3 1120v8M762.2 1148v5M762.3 1202v6M762.3 1216v6M762.2 1251v5M766.3 1073l-0.8 13M766.1 1096v8M766.1 1103v7M766.2 1145l-0.7 11M766 1189v4M766.1 1225v7M766.2 1258l-0.5 9M769.9 1175v8M769.9 1203v5M773.8 1103l-0.5 8M773.7 1139v6M773.7 1248v7M773.7 1278v5M777.5 1111v6M777.6 1164l-0.6 9M781.3 1098v7M781.4 1290l-0.5 7M788.9 1260v6M789 1288l-0.6 8M792.9 1138l-0.7 9M792.7 1223v5M792.9 1299l-0.8 9M796.8 1059l-1.0 11M796.8 1159l-1.0 11M796.5 1258v6M800.5 1007l-0.7 11M800.4 1112l-0.6 7M800.5 1187l-0.9 10M800.3 1283v5M804.3 1137l-0.9 9M811.9 1127l-0.8 8M811.9 1270l-0.8 8M815.9 1205l-1.1 11M819.4 1141l-0.6 6M819.5 1163l-0.9 8M823.5 1115l-1.3 12M827.2 1291l-1.0 9M831 1275l-1.0 9M834.8 1099l-1.0 8M834.9 1174l-1.1 9M834.6 1204l-0.7 6M842.2 1176l-0.7 6M846.5 1005l-1.6 17M846.1 1163l-0.8 6M846.3 1242l-1.3 10M846.2 1278l-0.9 7M850.3 1099l-1.6 12M850.3 1130l-1.6 12M850.1 1142l-1.2 9M849.8 1208l-0.7 5M850.2 1249l-1.3 10M854.1 1016l-1.6 15M854 1104l-1.4 10M853.8 1216l-1.1 8M857.6 1038l-1.0 8M861.3 1088l-0.8 6M861.4 1111l-0.9 7M861.5 1154l-1.3 9M865.4 1109l-1.4 9M865.4 1228l-1.4 9M869.4 1020l-1.7 14M868.8 1258l-0.7 5M873.4 1057l-2.2 14M873 1194l-1.5 10M872.9 1273l-1.2 8M880.3 1223l-0.9 6M884.2 1155l-1.0 6M888.1 1253l-1.3 8M891.8 1053l-1.0 6M891.8 1105l-1.1 7M895.8 1111l-1.3 8M899.6 1116l-1.4 8M899.8 1185l-1.8 10M907.2 1030l-1.3 9M907.2 1089l-1.4 8M907.3 1199l-1.7 9M911.1 1061l-1.7 9M911.3 1082l-1.9 10M914.6 1041l-1.0 6M914.7 1121l-1.2 7M914.7 1151l-1.2 6M914.6 1232l-1.0 6M918.7 1167l-1.6 8M918.6 1251l-1.4 7M922.4 1225l-1.4 8M926.7 1080l-2.4 12M930.4 1038l-2.2 12M933.8 1253l-1.3 7M937.8 1200l-1.9 9M941.7 1087l-2.1 10M952.9 1184l-1.7 8M952.9 1211l-1.6 7M953 1249l-1.8 8M957.2 1090l-2.6 11M956.7 1126l-1.5 7M957.1 1159l-2.3 10M960.4 1014l-1.4 9M960.8 1060l-2.3 10M960.6 1069l-1.8 8M960.7 1098l-2.0 9M960.4 1138l-1.4 6M960.8 1236l-2.2 10M965 1033l-3.1 15M964.7 1082l-2.3 10M964.5 1204l-2.0 9M967.9 1135l-1.1 5M968.6 1177l-2.6 11M968.5 1225l-2.4 10M968 1235l-1.5 7M972.6 1071l-3.1 13M972.6 1094l-3.0 12M971.9 1113l-1.7 7M972.5 1162l-2.7 11M983.3 1088l-1.7 7M983.5 1152l-1.9 8M987 1071l-1.5 6M987.6 1110l-2.7 11M987.7 1179l-2.7 11M994.5 1080l-1.2 5M998.7 1015l-2.0 10M999 1120l-2.7 10M1006.1 1135l-1.6 6M1006.8 1170l-3.0 11M1010.4 1002l-2.6 14M1017.6 1181l-1.8 7M1021.7 1129l-2.4 9M1025.3 1030l-2.0 8M1025 1069l-1.5 5M1025.6 1079l-2.6 9M1032.9 1095l-1.9 7M1040.3 1086l-1.7 6M1040.9 1180l-2.8 9M1045 1094l-3.4 11M1048.2 1135l-2.2 7M1048.4 1149l-2.5 8M1048.2 1182l-2.2 7M1059.2 1167l-1.5 5M1063.6 1132l-2.5 8M1074.5 1042l-1.7 6M1074.5 1107l-1.7 5M1074.8 1123l-2.1 7M1083.2 1120l-3.7 11M1094 1102l-2.6 8M1098.5 1035l-4.0 13M1097.7 1047l-2.4 7M1106.1 1013l-3.9 14M1108.7 972l-1.5 10M1113.8 1108l-4.1 11M1113.7 1134l-4.0 11M1129.1 1114l-4.4 12M1131.9 1063l-2.4 7M1147.6 1072l-3.4 9M1154.4 1091l-1.8 5M1174 966l-3.1 18M1173.7 1055l-2.5 7M1177.1 983l-1.7 8M1181.3 1066l-2.4 7M1186.1 1057l-4.4 12M1188.5 960l-1.6 12M1193.9 1012l-4.8 15M1208.8 1002l-4.2 14M1211.8 982l-2.7 12M1212.3 1025l-3.7 10M1219.9 990l-3.5 13M1226.6 977l-1.7 9M1230.4 995l-1.8 7M1234.7 975l-2.7 13"/>
<path stroke="#0054d3" d="M174.7 956l4.4 12M174.6 990l4.6 12M177.9 1023l5.7 15M182.3 1018l4.3 11M182.1 1029l4.8 13M189 1002l6.1 16M201.2 967l4.6 12M205.2 1065l4.3 11M211.9 1077l6.1 16M220.2 1029l4.5 12M219.5 1047l5.9 15M232.2 1078l3.4 9M235.2 1102l5.0 13M240 1074l3.0 8M243.3 1024l4.0 11M243.6 1071l3.4 9M254.7 1058l4.0 11M257 1015l7.0 18M269.8 1092l4.2 11M280.3 1006l6.0 16M285.6 1016l2.9 8M285.8 1047l2.5 7M289.8 1089l2.2 6M288.4 1132l5.0 13M300.2 1160l4.2 11M303.7 1078l4.9 13M303.7 1106l4.8 13M304.6 1156l3.0 8M310.5 1018l6.4 18M315.3 1148l4.5 13M323.9 1062l2.3 7M326.7 1003l4.4 13M327.7 1134l2.5 7M326.9 1175l4.0 12M331 1015l3.5 11M330.4 1048l4.7 14M335.5 1062l1.9 6M335.1 1067l2.7 8M334.6 1080l3.8 11M339.1 1113l2.4 7M341.5 1006l5.3 16M341.9 1074l4.4 13M343.1 1119l2.0 6M345.1 968l5.5 19M346.5 1157l2.8 9M350.7 1022l2.0 7M349.7 1069l4.0 12M350.7 1183l1.9 6M361.4 1191l3.5 11M365.3 1171l3.1 10M365.7 1180l2.4 8M369.7 1053l1.9 7M373.2 1049l2.7 9M372.8 1057l3.4 11M376.9 1124l2.9 10M384.9 1020l2.0 7M384.4 1146l3.0 10M388.7 1046l2.0 7M392.6 1176l1.7 6M395.9 1177l2.8 10M398.8 987l4.6 18M400 1122l2.2 8M400 1130l2.3 8M400.5 1154l1.2 5M403.4 1067l2.9 11M403.3 1090l3.2 12M407.8 1068l1.7 7M407.4 1190l2.6 10M410.9 1077l3.1 12M414.6 992l3.3 14M419.3 1014l1.7 7M418.8 1099l2.6 10M418.9 1131l2.4 9M419.3 1213l1.6 6M423.3 1163l1.1 5M423.1 1182l1.6 6M426.5 1051l2.4 10M430.7 1099l1.6 7M434.4 1056l1.8 8M438.6 1151l1.0 5M446.1 1239l1.2 6M449.4 1254l2.1 9M456.9 1072l2.4 11M456.9 1090l2.4 11M457 1100l2.3 10M457.4 1189l1.4 7M457.5 1195l1.3 6M464.8 1081l1.7 8M465 1089l1.4 7M464.5 1106l2.5 11M465.2 1117l1.1 5M471.9 1042l2.8 13M472.8 1209l1.1 6M479.7 1095l2.4 12M480.1 1200l1.6 8M487.7 1056l1.7 9M487.9 1072l1.3 7M487.4 1078l2.1 11M491.5 1086l1.7 9M491.3 1133l2.1 11M491.7 1187l1.2 7M491.7 1216l1.1 6M495.2 1100l1.8 10M495.4 1164l1.5 8M495.6 1248l1.0 6M495.7 1271l0.8 5M498.5 982l2.9 17M498.6 1035l2.6 14M499.1 1094l1.5 9M503.1 1258l1.1 7M507.1 1189l0.9 5M510.4 1024l1.8 11M510.8 1164l1.0 6M514.5 1179l1.2 7M514.5 1258l1.2 7M521.9 1029l1.6 10M522 1076l1.4 9M522.3 1240l0.8 5M525.9 998l1.3 9M525.3 1048l2.4 15M525.9 1267l1.1 7M529.8 1245l1.0 7M533.2 1013l1.9 13M533.8 1161l0.6 5M533.6 1204l0.9 6M537.3 1250l1.2 8M545.1 1110l0.8 6M545.1 1181l0.8 6M548.8 1173l1.0 8M555.9 1023l1.9 15M560.2 1190l0.9 7M564.1 1154l0.8 7M563.9 1215l1.2 10M564.1 1247l0.8 7M567.7 999l1.1 10M567.9 1023l0.7 7M567.9 1029l0.9 8M575.5 1136l0.9 8M578.9 1055l1.6 15M579.3 1119l0.8 8M579.4 1219l0.6 6M583.2 1185l0.6 6M586.7 1111l1.2 12M590.7 1139l0.8 8M590.8 1199l0.6 7M590.7 1240l0.9 9M598.3 1226l0.8 9M602.2 1043l0.5 6M602.3 1151v5M602.3 1201v5M602.1 1286l0.8 9M606 1144l0.6 8M605.9 1259l0.7 9M609.9 1157v6M613.7 1261v7M617.3 1000l0.8 11M617.4 1177l0.6 8M617.5 1236v5M621.3 1262v5M625 1112l0.6 9M625 1161l0.6 9M625.2 1205v5M625.1 1239v7M628.8 1197l0.7 11M632.6 988l0.6 12M632.6 1079l0.5 9M632.6 1107l0.6 11M632.7 1117v6M632.8 1226v5M632.8 1258v5M632.6 1262l0.5 9M636.4 1151l0.6 11M640.3 1161v8M643.9 993l0.7 16M644.2 1143v5M644.2 1297v6M651.8 1225v7M655.6 1227v8M655.5 1285v8M659.4 1102v9M659.4 1234v8M667 1128v9M667 1238v6M667 1289v7M670.8 1278v9M674.6 1167v7M674.6 1186v8M678.4 1008v9M678.4 1055v9M678.4 1064v7M682.3 1106v8M682.3 1190v7M682.3 1241v7M682.2 1277v10M682.2 1302v10M686.1 1113v6M686.1 1128v7M686.1 1134v6M686.1 1140v5M686.1 1187v6M686.1 1232v6M689.9 1229v5M689.9 1296v4M697.5 1253v7M697.5 1289v10M701.3 1071v12M701.3 1119v7M701.3 1252v6M705.1 1072v7M705.1 1096v11M708.9 1032v6M709 1178v10M716.6 1080v10M720.4 1073v8M720.3 1201v5M720.4 1261v9M720.4 1301v9M724.2 1284v9M728.1 1088v12M728 1100v8M728 1117v7M728 1138v9M728 1274v8M731.8 1109v7M731.8 1265v7M731.8 1284v5M735.6 1022v9M735.7 1070v12M735.6 1241v7M739.4 1045v8M743.3 1118v7M743.3 1268v9M747.2 1021l-0.5 14M747 1092v5M747.1 1172v11M750.8 1113v5M754.8 1209l-0.5 11M754.7 1295v8M758.6 1075l-0.6 11M758.6 1153l-0.6 10M762.4 1091l-0.6 11M766.1 1201v5M770 1134l-0.7 11M769.9 1300v6M773.6 1244v4M777.5 1083v7M777.7 1116l-0.8 11M777.6 1298l-0.7 10M781.5 1301l-0.7 10M785.2 1147l-0.5 7M785.1 1247v5M789.1 987l-0.7 16M796.8 1135l-1.0 11M796.5 1169v5M796.6 1189l-0.5 6M800.6 1160l-1.0 11M804.3 1095l-0.9 9M804.3 1156l-0.8 9M804.1 1225v4M808.4 1072l-1.4 14M808 1097l-0.6 6M808 1227l-0.7 7M811.8 1144l-0.6 6M812 1242l-1.0 9M816 1095l-1.3 12M815.7 1239l-0.7 7M819.5 1180l-0.7 7M819.6 1290l-1.0 9M823.6 1086l-1.3 12M823.4 1177l-1.1 10M823.4 1280l-1.1 10M831 990l-0.9 14M830.8 1003l-0.6 9M830.9 1044l-0.7 7M831 1137l-1.0 9M831.2 1145l-1.4 12M831 1182l-1.0 8M831 1254l-1.0 9M834.6 1222l-0.6 6M838.5 1236l-0.9 7M846.3 1032l-1.2 11M846.5 1066l-1.7 13M846.1 1236l-0.8 7M846.2 1258l-1.1 8M850 1081l-1.0 8M849.9 1234l-0.8 6M853.8 983l-0.9 13M853.6 1186l-0.7 5M857.5 1161l-0.9 7M861.8 1022l-1.7 14M861.6 1277l-1.4 10M865 1165l-0.7 5M868.9 996l-0.7 8M869.2 1070l-1.4 9M873.1 1236l-1.6 10M872.6 1245l-0.7 5M877 1058l-1.8 12M876.6 1240l-1.0 6M880.8 1083l-1.8 11M880.9 1104l-2.0 12M880.3 1115l-0.9 6M884.8 1026l-2.2 16M884.5 1179l-1.6 10M884.3 1188l-1.1 7M884.1 1205l-0.9 6M884.5 1266l-1.7 10M888.7 1048l-2.4 15M892.3 1133l-2.0 12M895.9 1261l-1.5 9M899.8 991l-1.8 17M903.4 1048l-1.5 9M903.2 1056l-1.0 6M903.6 1215l-1.9 10M907 1122l-1.0 6M907.5 1149l-2.0 11M907.3 1190l-1.7 9M907 1251l-1.0 6M910.7 1155l-0.9 5M911.3 1201l-2.0 11M911.1 1241l-1.6 9M915 1091l-1.8 10M918.5 1018l-1.1 8M918.8 1181l-1.7 9M918.5 1189l-1.2 7M922.5 1021l-1.6 10M926.2 1108l-1.5 8M930.4 993l-2.2 18M929.9 1071l-1.2 6M930.4 1131l-2.2 11M930.3 1149l-1.9 9M933.9 1113l-1.7 8M933.9 1176l-1.6 8M942 1049l-2.6 12M941.2 1168l-1.1 5M941.8 1173l-2.2 10M945.6 1147l-2.3 10M945.4 1186l-1.7 8M949.6 1026l-2.6 14M949.2 1226l-1.8 8M957 1009l-2.2 13M956.7 1169l-1.6 7M964.3 1096l-1.7 7M964.6 1103l-2.2 9M968.6 1124l-2.7 11M967.9 1187l-1.1 5M971.9 1139l-1.7 7M976.1 1055l-2.4 10M983 1207l-1.1 5M983.1 1219l-1.2 5M987.7 1034l-2.9 13M987 1137l-1.4 6M991.6 1008l-3.0 16M990.8 1189l-1.3 5M991.4 1226l-2.6 10M995.4 1001l-3.1 17M995 1208l-2.2 8M999 1216l-2.6 10M1006.3 1047l-2.0 8M1006.1 1130l-1.6 6M1014 1127l-2.1 8M1017.5 1143l-1.6 6M1021.4 1138l-1.7 6M1029.3 1090l-2.4 9M1029.1 1201l-2.0 7M1033.4 1181l-3.0 10M1036.8 1137l-2.3 8M1040.9 1043l-2.8 10M1040.6 1079l-2.3 8M1040.9 1091l-2.9 10M1043.9 987l-1.3 8M1044.6 1086l-2.7 9M1048.5 1119l-2.8 9M1052.1 1164l-2.3 8M1056.3 1037l-3.2 11M1060.7 1049l-4.4 14M1063.9 1035l-3.3 11M1067 1124l-1.8 6M1071.2 1101l-2.5 8M1079.5 1114l-4.0 12M1089.8 982l-1.8 11M1094.6 1040l-3.7 12M1098.3 1011l-3.6 14M1105.2 1134l-2.2 7M1109.4 1124l-3.1 9M1113.1 1030l-2.8 9M1117.3 1128l-3.7 10M1121.8 1059l-5.0 13M1124.2 1034l-2.2 7M1131.6 979l-1.9 11M1132.9 1093l-4.5 12M1136.7 1076l-4.4 12M1139.8 1087l-2.9 8M1158.7 1064l-2.8 8M1162.2 997l-2.3 9M1163.4 1013l-4.6 15M1162.8 1080l-3.4 9M1170.9 998l-4.5 17M1170.2 1076l-2.9 8M1174.6 1008l-4.3 14M1189.8 1048l-4.1 11M1205.2 992l-4.5 17M1223.1 1009l-2.4 8M1245.8 970l-2.1 11"/>
<path stroke="#0066e2" d="M158.6 964l6.1 16M177.5 971l6.5 17M196.6 1050l6.3 16M223.5 1036l5.6 15M224 1050l4.5 12M228.3 960l3.7 10M238.4 981l6.3 16M239.6 1093l3.9 10M241.9 1034l6.7 17M259.3 1123l2.5 7M265.1 1043l5.9 15M270.1 1028l3.7 10M269.9 1046l4.0 11M269.8 1081l4.2 11M273.6 1066l4.2 11M280.9 1104l4.8 13M288.6 1041l4.5 12M291.8 998l5.7 16M296.9 1035l3.1 9M299.9 1029l4.8 13M300.5 1114l3.6 10M300.3 1129l3.9 11M311.4 1111l4.6 13M320.2 1156l2.2 6M327.5 1167l2.8 8M334.8 1113l3.4 10M338 986l4.6 15M339.1 1054l2.5 8M339.5 1177l1.7 5M346.9 1139l2.0 6M350.7 1063l2.1 7M350.6 1093l2.1 7M357.6 1157l3.3 11M361.3 1091l3.6 11M362.2 1202l1.7 6M369.1 1043l3.2 11M369.9 1154l1.5 5M380.4 1088l3.4 12M388.5 1182l2.4 9M388.3 1209l2.8 10M392.2 1096l2.6 9M396.5 1090l1.7 6M396.3 1170l2.0 7M407.5 987l2.4 10M407.7 1042l1.9 7M407.1 1114l3.2 12M407.9 1167l1.6 6M411.6 1143l1.8 7M411.6 1202l1.8 7M415.7 1123l1.3 5M418.4 1068l3.4 13M422 1023l3.8 15M422.9 1064l2.0 8M426.8 1045l1.7 7M427.2 1200l1.0 4M427.1 1233l1.1 5M430.9 1212l1.2 5M434.5 1172l1.7 7M434.2 1236l2.2 9M438.5 1161l1.2 5M441.6 1102l2.6 11M442.4 1183l1.0 4M445.1 995l3.1 14M445.2 1051l3.0 13M445.8 1124l1.8 8M445.5 1200l2.3 10M452.7 1019l3.2 14M453.2 1166l2.2 10M453.6 1185l1.5 7M453.5 1243l1.6 7M456.4 1006l3.3 15M461.2 1097l1.4 6M460.7 1175l2.5 11M464.4 998l2.6 13M464.4 1122l2.6 12M465.2 1133l1.0 5M464.7 1202l2.0 9M468.8 1072l1.4 7M472.3 1113l1.9 9M472.5 1166l1.7 8M472.5 1185l1.6 8M472.7 1204l1.1 6M475.8 1018l2.7 13M476.4 1204l1.5 7M476.3 1226l1.5 8M480.2 1188l1.4 7M483.5 1112l2.3 12M487.5 1125l2.1 11M487.5 1188l2.1 11M487.9 1211l1.1 6M490.9 1004l2.8 15M491.4 1119l1.8 10M495.5 1206l1.2 7M502.8 1186l1.9 11M506.9 1135l1.2 7M514.7 1232l0.7 5M518 1003l1.8 11M522 1112l1.4 9M522.4 1216l0.7 5M529 1029l2.5 16M529.8 1122l1.0 7M533.6 1182l1.0 7M540.9 1097l1.5 11M541.3 1265l0.9 6M545 1080l1.0 7M545 1087l1.0 8M544.8 1154l1.4 10M548.6 1157l1.5 11M548.7 1188l1.2 9M552.5 1138l1.3 10M552.7 1278l0.8 7M556.2 1044l1.5 11M556.2 1144l1.5 12M556.6 1204l0.5 5M560.3 1055l0.8 6M560.2 1266l1.0 8M563.8 1062l1.4 11M564 1130l1.0 8M564.2 1285l0.6 5M567.9 1185l0.9 8M568 1247l0.6 5M571.6 1078l1.0 9M579.2 981l1.0 11M583.3 1131v5M586.9 1128l0.7 7M590.7 1248l0.8 8M590.8 1274l0.7 7M594.6 1096l0.6 7M598.3 1071l0.7 8M598.4 1098l0.5 6M598.3 1126l0.7 8M598.4 1171l0.6 7M598.4 1234l0.5 6M602.3 1088v6M602.2 1166l0.5 6M602.2 1279l0.7 8M602.1 1300l0.7 8M606 1251l0.7 8M609.8 1063l0.6 7M609.7 1121l0.8 10M609.8 1216l0.5 7M613.6 1138l0.5 7M617.3 1144l0.7 10M617.5 1159v5M617.5 1275v5M621.2 1218l0.6 8M625.1 1091v7M625 1098l0.7 10M625.1 1133v5M628.8 1133l0.6 10M628.9 1225v7M632.6 999l0.6 11M632.6 1139l0.7 11M632.7 1156v7M636.4 1293l0.5 9M640.2 1090l0.7 13M640.2 1127l0.5 10M640.4 1224v5M640.3 1303v7M644.1 1185v8M644.1 1227v10M644.2 1242v5M644.1 1303v7M647.9 1115v8M647.9 1269v9M651.7 1025v12M651.8 1206v5M655.6 1303v7M659.3 991v12M659.3 1077v14M659.4 1167v7M659.4 1251v8M663.2 1287v10M667 1296v9M670.8 1060v7M674.6 999v12M674.7 1260v5M674.6 1269v6M674.7 1293v5M678.4 1070v7M678.4 1112v7M682.3 1147v7M682.3 1201v5M682.2 1260v8M686.1 1094v6M686.1 1257v7M686.1 1302v8M689.9 1250v4M689.9 1276v6M689.9 1288v8M693.7 1025v7M693.7 1157v6M693.7 1215v7M693.7 1245v6M693.7 1286v5M701.3 1161v6M701.3 1222v9M701.3 1297v8M709 1237v10M709 1278v10M712.8 1230v10M712.8 1263v7M716.6 1143v9M716.5 1162v5M720.4 1159v9M720.4 1283v10M724.3 1047v14M731.8 1087v7M731.8 1211v4M731.8 1215v9M731.8 1224v5M731.8 1302v6M735.6 1049v7M735.6 1144v5M735.6 1271v5M739.5 1138v12M739.5 1192v8M747.1 1138v9M747 1167v5M747 1192v7M750.9 992v12M750.9 1189v10M750.8 1236v5M754.7 1174v7M754.7 1233v8M754.6 1248v4M754.7 1269v7M758.5 1127v8M758.5 1179v8M758.6 1223l-0.5 9M762.2 1265v4M762.3 1298v6M766.1 1050v8M770.1 1104l-0.8 12M769.9 1287v7M773.7 1088v6M773.8 1235l-0.7 10M777.5 1248v6M781.3 1104v7M781.5 1186l-0.7 10M781.5 1235l-0.7 10M785.3 1170l-0.7 9M785.2 1200l-0.7 9M789.1 1020l-0.8 12M788.9 1184v5M792.9 1113l-0.8 10M796.6 1092l-0.6 7M796.8 1120l-1.0 11M796.7 1238l-0.9 10M800.5 1065l-0.9 10M800.6 1093l-1.0 11M800.6 1119l-1.0 11M800.5 1153l-0.7 8M804.4 1086l-1.0 10M808.3 1085l-1.2 13M808.3 1111l-1.1 11M808 1297l-0.7 7M811.8 1278l-0.6 7M815.8 1019l-1.0 12M815.9 1139l-1.1 11M815.6 1234l-0.6 6M815.8 1275l-1.1 10M819.6 1222l-1.0 9M819.5 1231l-0.8 8M823.5 1152l-1.3 12M827.1 1225l-0.7 6M827 1281l-0.5 5M830.9 1025l-0.8 8M831.1 1033l-1.2 12M831.2 1101l-1.4 12M831 1174l-1.0 8M830.8 1200l-0.5 5M834.8 1004l-1.1 13M834.9 1120l-1.1 10M834.5 1283v4M838.6 1216l-1.1 9M842.4 1001l-0.9 11M842.6 1011l-1.4 14M842.8 1044l-1.8 14M842.6 1098l-1.4 11M842.3 1116l-0.8 6M846.5 1078l-1.7 13M850.1 1063l-1.2 9M850.2 1120l-1.5 11M850.2 1150l-1.5 11M850.1 1287l-1.3 9M853.9 1190l-1.2 9M857.7 1128l-1.3 9M861.2 1273l-0.7 5M865.3 1092l-1.2 8M865.3 1220l-1.2 8M872.9 1257l-1.1 7M876.5 1136l-0.9 6M876.8 1141l-1.3 8M876.6 1195l-1.0 7M876.7 1209l-1.2 8M880.3 1131l-0.8 5M880.5 1135l-1.1 7M880.6 1214l-1.4 9M880.7 1253l-1.6 10M884.2 1105l-1.0 6M888.4 1062l-1.7 10M891.7 1244l-0.8 5M892.1 1262l-1.6 10M895.8 1094l-1.3 8M896 1132l-1.8 10M900 1007l-2.2 17M899.5 1024l-1.1 8M899.6 1124l-1.4 8M899.8 1256l-1.8 10M907.2 1050l-1.5 8M911.2 1192l-1.7 9M914.7 1259l-1.2 6M918.8 1025l-1.8 11M918.7 1213l-1.6 8M926.2 1182l-1.4 7M930.2 1222l-1.8 9M934 1229l-1.9 9M937.6 998l-1.4 11M938.2 1073l-2.7 12M942 1060l-2.5 12M941.2 1141l-0.9 5M945.5 1074l-2.1 10M953.1 1117l-2.0 9M952.8 1228l-1.4 6M956.8 1021l-1.9 10M964.3 1121l-1.7 7M964.7 1146l-2.3 10M968 1064l-1.4 6M968.8 1076l-3.1 13M976.2 1021l-2.7 14M976.3 1139l-2.7 11M975.6 1206l-1.4 6M979.7 1052l-1.9 8M983.5 1144l-2.1 8M983.4 1231l-1.8 8M987.6 1163l-2.6 10M987.5 1189l-2.4 9M987.2 1219l-1.9 8M991.2 1162l-2.2 9M999 1172l-2.6 10M1002.6 1014l-2.2 11M1006.7 1076l-2.8 10M1010.6 1118l-3.1 11M1017.5 1063l-1.7 6M1018 1096l-2.6 9M1021.8 1097l-2.5 9M1022 1197l-2.9 10M1024.9 987l-1.2 8M1029.5 1081l-2.8 10M1033.1 998l-2.3 13M1032.9 1123l-2.0 7M1033.1 1168l-2.3 8M1036.8 1064l-2.1 8M1036.7 1118l-1.9 7M1044.2 1010l-1.7 8M1044.5 1017l-2.4 10M1044.7 1158l-2.7 9M1048.3 1128l-2.5 8M1056.5 1168l-3.5 11M1060 1187l-3.1 10M1063.1 1167l-1.6 5M1067.1 1138l-2.1 7M1070.9 1035l-2.0 7M1071.8 1083l-3.8 11M1074.6 963l-1.8 15M1074.5 1168l-1.5 5M1078.3 1141l-1.6 5M1082.9 1029l-3.1 11M1082.6 1155l-2.5 8M1087 1080l-3.8 11M1086.6 1152l-3.0 9M1097.9 979l-2.8 16M1098.7 1093l-4.3 12M1101.3 1055l-1.9 6M1102.1 1089l-3.7 10M1106.1 1080l-4.1 11M1105.2 1140l-2.3 7M1112.6 971l-1.7 12M1116.1 975l-1.1 7M1117 1058l-3.1 9M1117.4 1078l-3.7 10M1124 982l-1.8 10M1124.2 1130l-2.1 6M1128 961l-2.2 16M1129 1069l-4.3 11M1132.1 1004l-2.8 11M1136.2 1087l-3.3 9M1139.7 1108l-2.8 8M1144.4 1008l-4.6 16M1147.2 1044l-2.5 7M1151.3 1009l-3.1 11M1171.2 1024l-5.0 15M1174.9 1062l-4.8 12M1178.9 1017l-5.2 15M1196.8 1039l-3.0 8M1200.5 987l-2.7 11M1204.6 1008l-3.5 11M1219.8 1003l-3.3 11M1238.3 958l-2.4 15"/>
<path stroke="#0077ef" d="M157.7 979l8.0 21M180.4 974l8.1 21M184.2 959l8.1 21M185.4 980l5.8 15M200.3 978l6.3 16M213.4 1009l3.1 8M228.6 1055l3.0 8M246.2 1031l5.8 15M258.6 1033l3.8 10M262.5 970l3.5 10M261 1026l6.5 17M262.7 1121l3.2 9M280.9 1050l4.8 12M285.4 1054l3.5 9M285.4 1148l3.4 9M289.7 1083l2.4 6M303.1 1023l6.0 16M304.7 1071l2.8 8M304.6 1091l2.9 8M305.2 1135l1.8 5M308.3 1096l3.2 9M327.7 1186l2.4 7M331.4 1114l2.7 8M330.6 1131l4.2 12M346.7 1118l2.3 7M349.3 986l4.8 16M350.4 1046l2.7 9M350 1198l3.4 11M354.3 966l2.4 9M357.9 1093l2.8 9M365.4 1091l3.0 10M365.3 1161l3.2 11M369.8 1107l1.8 6M377.5 1062l1.6 6M380.9 978l2.4 10M380.8 1203l2.6 9M384.1 1069l3.7 13M385.1 1163l1.6 6M392.9 1155l1.3 5M403.9 1005l2.0 8M407.5 978l2.4 10M407.4 1173l2.6 10M411.5 977l2.1 9M410.8 1001l3.4 14M414.7 1053l3.3 13M415.7 1141l1.3 5M422.7 1221l2.4 10M430 1087l3.1 12M430.6 1119l1.7 7M430.6 1184l1.7 7M438.1 1089l2.0 8M442 1230l1.7 7M441.9 1249l1.9 8M446.1 1243l1.2 5M449.9 1191l1.2 6M452.8 998l3.0 14M453.3 1120l1.9 9M453.3 1196l2.0 9M453.5 1204l1.6 7M456.6 1021l3.0 14M457.3 1109l1.6 7M457.3 1152l1.7 8M461.1 1249l1.6 8M464.9 1024l1.6 8M465 1196l1.5 7M468.6 983l1.8 10M468.8 1084l1.4 7M468.9 1134l1.2 6M472.3 1082l1.9 9M472.5 1241l1.6 8M483.9 1159l1.5 8M495.2 1180l1.7 9M502.8 1023l1.9 11M503.1 1252l1.3 7M507 1090l0.9 6M506.9 1212l1.2 7M506.7 1243l1.6 9M510.5 1210l1.6 10M514.4 1092l1.5 9M514.1 1109l2.0 12M514.4 1190l1.4 9M518 1023l1.7 11M518.1 1116l1.6 10M518.1 1216l1.6 10M525.6 1111l1.9 12M525.9 1180l1.1 7M525.8 1282l1.4 9M533.5 1188l1.3 9M541.3 1225l0.7 5M548.8 1268l1.0 7M552.3 1036l1.7 12M552.8 1214l0.6 5M552.6 1266l1.1 8M556.3 1187l1.3 10M560.2 1274l1.0 8M560.1 1281l1.3 10M564 1160l1.1 9M564.1 1228l0.9 7M564.1 1263l0.9 7M571.8 1092l0.7 6M575.2 1042l1.3 12M575.6 1218l0.6 6M575.3 1275l1.1 10M579.2 1210l1.0 9M582.7 1030l1.6 15M583.1 1124l0.8 8M583.1 1166l0.8 8M587 1062l0.7 7M586.8 1155l0.9 9M590.7 1179l0.7 8M598.4 1166l0.5 6M598.3 1250l0.8 9M601.8 1027l1.4 16M602 1048l1.1 12M602.2 1093l0.5 6M605.8 1086l0.9 11M609.9 1223v6M609.8 1289l0.7 9M609.9 1298v5M617.2 1011l1.1 15M617.3 1226l0.8 11M617.3 1291l0.7 10M621.1 1108l0.8 12M624.7 1006l1.1 18M625 1259l0.6 9M628.7 1142l0.7 11M632.5 1018l0.8 14M632.7 1220v6M632.7 1231v7M632.7 1283v6M636.4 999l0.6 11M636.5 1089v6M636.4 1171l0.6 11M636.4 1243l0.5 10M640.3 1195v9M640.4 1203v6M644.2 1204v5M647.8 1046l0.6 13M651.8 1121v5M655.5 1166v9M659.4 1055v6M659.3 1289v10M663.2 1083v8M663.2 1173v8M670.8 1160v10M670.9 1186v5M674.6 1055v14M674.6 1099v11M674.7 1264v5M678.4 999v10M678.4 1105v8M678.4 1135v12M678.4 1258v8M682.2 1034v14M682.2 1088v12M682.3 1113v6M686 997v18M686.1 1198v7M689.9 1051v15M689.9 1165v6M693.7 1054v10M693.7 1170v10M693.7 1199v6M693.7 1303v9M701.3 1082v13M705.1 1116v6M705.1 1232v6M709 1051v14M709 1153v11M709 1263v9M708.9 1271v7M712.8 1026v10M712.8 1111v9M712.7 1216v6M716.6 1241v10M720.4 1148v7M724.2 1137v11M724.2 1254v6M724.2 1297v6M728.1 1053v13M728 1129v9M728 1194v8M728 1201v7M728 1230v10M728 1282v8M728 1304v4M739.5 1106v10M739.4 1126v5M739.4 1199v5M743.2 1077v6M743.2 1098v6M743.3 1215v8M743.3 1228v8M750.9 1212v7M754.7 1155v7M754.6 1219v4M754.7 1275v9M758.5 1139v7M758.5 1266v7M758.5 1290v7M762.3 1191v8M766.1 1117v7M766.2 1131l-0.5 8M766.2 1193l-0.5 9M766 1266v4M769.9 1144v6M774 1033l-0.9 15M773.7 1128v6M773.8 1164l-0.7 10M773.7 1173v7M773.7 1228v7M777.6 1265l-0.5 7M777.5 1272v5M785.1 1001v9M785.3 1153l-0.7 10M788.9 1014v7M788.9 1275v5M792.8 1059l-0.6 7M792.8 1101l-0.6 7M792.8 1130l-0.6 8M792.8 1237l-0.5 7M792.8 1243l-0.6 8M796.5 1194v5M800.4 1018l-0.5 8M804.4 1007l-1.0 14M804.2 1120l-0.7 7M808.2 1141l-1.1 11M812 1100l-1.0 10M811.8 1149l-0.6 6M815.8 1222l-0.9 9M819.4 984l-0.7 12M819.6 1127l-1.0 10M819.7 1170l-1.1 10M819.6 1238l-1.1 10M827.2 1174l-1.0 9M831 1063l-1.1 9M831.2 1089l-1.4 12M831.1 1213l-1.2 10M831 1232l-1.0 8M834.7 1016l-0.9 9M834.7 1198l-0.8 7M834.8 1262l-1.1 9M838.6 1070l-1.0 8M838.7 1117l-1.1 9M838.4 1211l-0.6 5M842.4 1034l-1.1 10M842.5 1144l-1.3 10M846.3 1042l-1.3 11M846.2 1148l-1.1 8M846.1 1273l-0.7 6M850.1 1170l-1.2 9M850.2 1185l-1.3 10M850.2 1218l-1.3 10M849.9 1259l-0.8 6M857.7 1055l-1.2 9M861.3 1106l-0.7 5M865.7 1039l-1.9 14M865.1 1237l-0.7 5M872.9 1026l-1.2 10M872.8 1035l-1.0 8M873.1 1121l-1.6 10M876.6 1254l-1.0 6M880.6 1269l-1.3 8M884.5 1135l-1.6 10M884.2 1149l-1.0 6M884.6 1195l-1.8 11M887.9 1072l-0.9 6M888.1 1260l-1.3 8M892.2 1058l-1.7 10M892.3 1122l-2.0 11M891.8 1271l-0.9 6M896 1073l-1.7 10M896.1 1150l-2.0 11M903.2 993l-0.9 9M903.2 1082l-0.9 5M903.3 1136l-1.3 7M903.6 1151l-1.9 10M907.3 1096l-1.6 9M911.3 1042l-1.9 11M911.2 1101l-1.9 10M911.4 1110l-2.2 11M914.8 1127l-1.5 8M915.1 1156l-2.1 11M918.9 1035l-2.0 12M918.6 1116l-1.5 8M918.5 1175l-1.2 6M918.4 1195l-0.9 5M922.3 1092l-1.2 6M922.3 1173l-1.1 6M926.6 1070l-2.1 10M926.4 1164l-1.9 9M926.5 1172l-2.1 10M926.2 1261l-1.5 8M930.6 1058l-2.7 13M930 1110l-1.3 7M930.2 1242l-1.8 9M933.5 1209l-0.8 4M938.3 1048l-2.9 14M941.1 1209l-0.8 4M941.2 1235l-1.0 5M945.5 1208l-2.1 10M945.3 1254l-1.6 7M948.8 1163l-1.0 5M948.9 1198l-1.2 6M949 1220l-1.4 6M949 1243l-1.3 6M952.9 1010l-1.5 10M956.8 1132l-1.8 8M956.6 1181l-1.4 6M960.5 1157l-1.5 7M964.6 978l-2.2 18M964.7 996l-2.3 16M964 1165l-1.0 5M964.6 1226l-2.1 9M968.3 1028l-2.0 10M968.6 1204l-2.5 11M976 1078l-2.2 9M980 1214l-2.6 10M984.2 1067l-3.4 13M987 1028l-1.5 7M991.8 1023l-3.4 16M991.1 1137l-2.1 8M995.3 1173l-2.8 11M1013.8 1144l-1.8 7M1013.6 1176l-1.4 5M1013.9 1215l-2.1 8M1017.9 983l-2.5 16M1017.4 1105l-1.4 5M1022.2 1067l-3.4 12M1021.5 1085l-2.1 7M1021.6 1143l-2.3 8M1025.3 1108l-2.0 7M1025.9 1136l-3.3 11M1036.5 986l-1.6 10M1037.6 1042l-3.7 14M1037.5 1101l-3.6 12M1041.3 1052l-3.6 13M1051.6 966l-1.3 12M1052.8 1028l-3.9 15M1052.6 1118l-3.3 11M1055.6 1111l-1.9 6M1059.8 1112l-2.6 8M1063.7 1011l-2.8 12M1063.8 1184l-3.0 9M1070.7 1125l-1.6 5M1075.4 1018l-3.5 13M1079 1064l-3.1 9M1079 1125l-3.0 9M1078.5 1172l-1.9 6M1086.3 1131l-2.3 7M1086.2 1138l-2.3 7M1090.7 1130l-3.5 10M1097.5 1059l-2.1 6M1097.6 1139l-2.2 7M1101.9 979l-3.3 18M1101.3 1060l-2.1 6M1105 1035l-1.9 6M1113.6 1087l-3.8 10M1116.3 982l-1.6 9M1117.1 1024l-3.2 11M1117 1094l-3.1 9M1151.4 1073l-3.3 9M1159.1 1092l-3.7 10M1163.7 1052l-5.3 14M1166.2 1057l-2.6 7M1169.8 988l-2.2 10M1177.8 991l-3.1 13M1177.4 1073l-2.2 6M1182.4 996l-4.6 17M1184.9 1011l-2.0 7M1208.9 1024l-4.3 12M1219.5 1013l-2.8 9"/>
<path stroke="#088dfd" d="M177 1004l7.5 19M190 1042l4.3 11M199.7 1002l7.6 20M230.5 1014l6.8 18M243.9 1092l2.8 8M264.3 974l7.6 21M270.4 1132l3.1 8M274.3 993l2.9 8M273.5 1131l4.5 12M282.3 1122l2.0 6M285.6 1040l3.0 8M288.3 1004l5.2 14M289.9 1118l2.0 6M295.4 971l6.3 19M299.2 996l6.2 17M299.4 1041l5.8 15M309 1131l1.8 5M319.4 1171l3.8 11M323.5 1031l3.2 9M326.2 1016l5.5 16M327.7 1079l2.4 7M335.2 1000l2.6 8M343.1 1103l2.0 6M342.7 1135l2.8 9M347.1 1197l1.6 5M350.9 1081l1.6 5M350.2 1189l2.9 9M353.6 1026l3.9 12M354.5 1168l2.0 6M354.5 1188l2.1 7M357.6 1200l3.3 11M369 1190l3.3 11M385.3 1190l1.3 5M392.5 1077l1.9 7M396.4 1187l1.7 6M399.2 1030l3.9 14M411.9 1180l1.1 5M418.8 981l2.7 12M419 1123l2.1 8M419.4 1146l1.3 6M419.2 1196l1.8 7M422.4 1076l3.1 12M422.7 1127l2.3 9M430.7 1081l1.6 7M433.7 1044l3.1 13M434.1 1112l2.5 10M438.2 990l1.8 9M437.7 1067l2.8 12M438 1126l2.3 10M438.3 1155l1.5 7M442 1013l1.8 8M441.6 1173l2.5 11M445.6 1177l2.3 10M445.8 1192l1.9 8M445.7 1231l2.0 9M449.8 1249l1.4 7M453.4 1092l1.8 8M453.8 1258l0.9 5M460.3 1041l3.3 15M460.5 1055l2.8 13M460.4 1075l2.9 13M461.1 1242l1.6 8M461.2 1261l1.4 7M468.8 975l1.5 8M468.5 1214l2.1 10M472.3 1122l2.1 10M472.4 1196l1.8 9M475.6 1038l3.1 15M480 1179l1.9 9M480 1258l1.8 9M483.3 1030l2.8 14M484.1 1184l1.2 6M483.8 1254l1.7 9M484 1262l1.4 7M487.2 1024l2.6 14M491.7 1045l1.2 6M491.5 1144l1.7 9M491.4 1227l1.8 10M494.9 977l2.4 15M495.3 1062l1.6 9M499.3 1110l1.2 7M499.2 1257l1.5 8M503.1 1041l1.3 7M502.7 1213l1.9 11M510.2 1041l2.2 13M510.9 1240l0.8 5M514.4 1157l1.4 9M518.3 1126l1.1 7M518.1 1191l1.7 10M521.6 989l2.2 14M521.8 1152l1.9 12M529.4 1159l1.8 11M529.9 1170l0.8 5M533.3 1067l1.6 10M541.1 1001l1.1 8M540.9 1017l1.6 12M540.8 1075l1.8 13M541.1 1143l1.2 8M541 1194l1.5 10M545.2 1261l0.7 5M548.5 1094l1.7 12M548.7 1116l1.2 9M552.7 1053l0.8 6M552.3 1154l1.5 11M552.5 1289l1.3 10M556.5 1138l0.8 6M563.9 1025l1.1 9M567.8 1220l1.0 9M571.7 989l0.8 8M571.5 1173l1.3 11M571.8 1183l0.7 6M571.7 1236l0.8 7M571.6 1277l1.0 9M575.4 1092l1.1 10M583.2 1180l0.5 5M587 1191l0.6 6M587 1221l0.6 6M590.8 1048l0.7 7M594.6 1279l0.5 6M598.3 1258l0.7 8M602.2 1235l0.5 6M606 1063l0.6 8M606.1 1116v5M606.1 1195v6M609.9 1162v5M609.8 1272l0.6 7M613.4 1099l1.0 13M617.4 1120l0.7 10M621.1 1192l0.7 11M625.1 1023v8M625.1 1210v5M625.1 1275v6M628.8 1014l0.6 10M628.8 1293l0.6 9M632.7 1150v7M632.6 1189l0.6 10M636.5 1064v8M640.2 1151l0.6 11M647.9 1161v10M651.8 1210v6M655.6 1065v6M655.6 1215v7M655.6 1278v7M655.6 1297v7M659.4 1174v5M663.2 1090v9M663.2 1121v8M663.2 1215v6M667 1071v8M667 1199v10M670.8 1176v10M674.6 1274v7M674.6 1297v8M678.4 1088v12M678.5 1266v5M678.5 1281v5M678.4 1306v8M682.2 1005v17M682.3 1178v8M689.9 1215v7M693.7 1143v7M697.5 1105v12M697.5 1208v8M701.3 1134v5M701.3 1290v8M705.1 1251v9M705.1 1280v7M712.8 1128v9M712.8 1254v10M716.6 1023v12M716.6 1263v7M720.4 1269v9M728.1 1027v13M728 1298v6M731.8 1037v9M731.8 1206v6M731.9 1228v10M735.7 1189v10M739.4 1149v6M743.2 1133v5M743.2 1246v7M747.1 1120v7M747 1155v6M747 1280v4M747 1288v6M751 1122l-0.5 11M754.7 1302v8M758.6 1094l-0.6 11M766.1 1043v7M766.2 1291l-0.6 10M769.9 1062v7M770 1237l-0.5 8M777.6 1057l-0.5 7M777.6 1240l-0.5 8M785.3 1216l-0.8 11M785.1 1234v5M789.2 1114l-1.0 12M789.1 1176l-0.7 9M792.9 1173l-0.7 9M796.6 1174l-0.5 6M796.7 1271l-0.8 9M800.5 1025l-0.7 10M800.3 1197v5M804.2 1020l-0.6 8M808.4 1033l-1.4 16M808.1 1212l-0.7 8M807.9 1219v4M811.7 1233v4M815.7 1254l-0.8 8M819.4 1208l-0.5 5M823.5 1163l-1.2 10M823.2 1201l-0.6 6M827.2 1022l-1.0 11M827.2 1245l-1.0 9M827.1 1257l-0.8 7M831 1081l-1.0 9M830.9 1239l-0.7 7M834.8 1145l-1.1 9M838.5 1195l-0.8 7M842.4 1274l-1.0 8M850.1 1040l-1.2 10M850.1 1161l-1.3 10M850 1227l-1.0 7M853.8 1162l-1.1 8M853.8 1203l-1.1 8M853.9 1252l-1.1 8M857.6 1086l-1.0 7M857.6 1210l-1.0 7M857.7 1216l-1.3 9M861.6 1162l-1.4 10M861.5 1182l-1.3 9M865.5 1081l-1.7 11M865.4 1100l-1.5 10M865.3 1126l-1.3 9M869.4 1033l-1.7 13M873 1091l-1.4 9M876.9 1012l-1.5 13M876.5 1069l-0.8 6M880.3 1142l-0.8 5M884.4 1115l-1.5 9M891.9 1008l-1.3 11M896 1208l-1.8 10M899.7 1163l-1.6 9M899.8 1247l-1.7 10M903.9 1069l-2.4 13M903.6 1205l-1.8 10M910.8 1262l-1.0 6M915.2 993l-2.1 18M915.2 1080l-2.2 12M922.3 1097l-1.1 6M922.5 1135l-1.7 9M930.2 1158l-1.8 9M930.3 1166l-2.0 10M941.8 987l-2.1 17M941.6 1004l-1.8 13M941.2 1205l-1.0 5M948.9 1054l-1.3 6M964.6 1127l-2.2 10M967.9 1150l-1.2 5M968.3 1192l-2.0 9M971.8 1129l-1.3 6M971.8 1146l-1.5 6M979.7 1159l-2.1 9M983.2 970l-1.4 13M983.6 1136l-2.1 9M991.2 1103l-2.3 9M994.8 1139l-1.9 7M1002.7 1106l-2.4 9M1006.5 1095l-2.4 9M1010 1147l-1.8 7M1013.9 1077l-2.0 7M1014.2 1186l-2.6 10M1017.9 1125l-2.3 8M1017.9 1198l-2.4 9M1029.3 966l-2.3 19M1032.9 1010l-2.0 10M1036.7 1028l-2.0 8M1036.8 1124l-2.3 8M1040.8 1070l-2.6 9M1041.3 1114l-3.6 12M1044 1154l-1.3 5M1044.2 1184l-1.8 6M1048.4 1009l-2.6 12M1056.7 1011l-3.9 17M1063 976l-1.4 10M1071.2 1148l-2.6 8M1075.3 1066l-3.3 10M1078.7 1165l-2.5 8M1090.8 1071l-3.7 11M1094 985l-2.5 14M1094.8 1060l-4.1 12M1094.1 1085l-2.7 8M1105.5 1117l-2.8 8M1109.4 1039l-3.0 9M1109.9 1132l-4.0 11M1128.7 1085l-3.6 10M1148.1 1061l-4.3 11M1146.9 1108l-2.0 6M1151.6 1034l-3.7 11M1170.3 1014l-3.3 11M1185.1 1026l-2.5 7M1200.9 998l-3.5 13M1204.4 979l-3.0 14"/>
<path stroke="#2fa4ff" d="M154.6 989l6.6 17M172.4 967l9.0 23M220.6 973l3.7 10M236.1 1007l3.3 9M266.7 1021l2.7 7M269.3 1015l5.2 14M296.3 1084l4.4 12M319.1 1116l4.4 12M321.9 1007l6.3 18M323.5 1102l3.3 9M327.5 1104l2.8 8M331.3 991l2.7 9M331.6 1150l2.2 7M342.6 1029l3.1 9M342.4 1182l3.3 10M345.9 1034l4.0 12M358.4 1114l1.8 6M358.1 1127l2.4 8M369 1096l3.3 11M373.4 1073l2.2 7M373.5 1124l2.0 7M373.3 1201l2.4 8M376.3 1049l4.1 14M387.9 1015l3.5 13M388.4 1081l2.6 9M392.2 1196l2.5 9M396.3 1003l2.0 8M396.2 1032l2.1 8M407.1 1074l3.2 12M411.3 1035l2.3 9M411.9 1154l1.3 5M411.4 1184l2.2 9M411.7 1214l1.5 6M415.2 1086l2.1 8M415.4 1237l1.8 7M422.9 1009l2.0 8M426.6 1171l2.2 9M429.8 998l3.3 14M430.1 1070l2.9 12M434.7 1146l1.2 5M434.8 1214l1.1 5M434.8 1232l1.0 4M438.2 1144l1.8 8M438.4 1211l1.3 6M441.9 1213l1.9 8M445.6 1104l2.3 10M448.9 1070l3.1 13M449.4 1149l2.2 10M449.4 1159l2.2 10M453.6 1065l1.4 6M453.3 1250l2.1 9M457.5 1252l1.2 6M461.1 1202l1.6 8M465.1 1211l1.1 6M465.2 1253l0.9 5M476.2 1079l1.8 9M476.5 1221l1.1 6M483.8 1104l1.7 9M488 1249l1.1 6M487.6 1263l1.8 10M491.1 991l2.5 14M495.7 1224l0.8 5M495.7 1228l0.9 5M499 1132l1.8 10M499.3 1198l1.2 7M502.7 1005l2.1 12M503.2 1235l1.1 6M506.6 1036l1.7 10M506.7 1117l1.6 9M507.1 1185l0.8 5M510.5 1267l1.5 9M518 1174l1.8 11M521.9 1138l1.6 10M529.6 1106l1.4 9M529.8 1153l0.9 6M530 1236l0.6 4M529.8 1251l1.1 7M533.4 1280l1.4 9M537.2 1037l1.4 10M537.4 1112l1.1 7M537.1 1177l1.6 11M541.1 1053l1.3 9M544.7 1060l1.5 11M544.8 1168l1.3 10M545 1254l1.1 8M548.7 1180l1.2 9M548.8 1244l1.0 7M552.7 1047l0.8 7M552.6 1131l1.0 7M552.6 1147l1.0 8M560 1073l1.3 11M560.3 1130l0.7 6M560.2 1224l1.0 8M563.9 1047l1.1 9M563.9 1276l1.1 9M567.8 1036l0.9 8M567.4 1050l1.8 15M567.8 1167l1.1 9M571.3 1005l1.6 14M571.6 1155l1.1 9M571.9 1228v4M575.6 1223l0.6 5M579.4 1131l0.5 5M579.5 1275v4M583.2 1276l0.6 6M586.8 1135l1.0 10M590.6 1108l0.9 10M590.7 1126l0.8 8M590.7 1223l0.8 8M594.3 991l1.3 14M594.5 1189l0.9 10M598.5 1201v5M606 1097l0.6 8M606 1200l0.6 8M609.7 1053l0.8 10M609.9 1175v6M609.7 1198l0.8 10M613.5 1054l0.8 11M613.7 1087v7M613.5 1296l0.8 10M617.2 1025l0.9 13M617.5 1037v6M617.5 1153v6M617.3 1209l0.8 10M617.4 1218l0.6 8M621.3 1225v6M625 1083l0.5 8M624.9 1150l0.8 11M625.1 1281v6M632.5 1058l0.8 14M636.5 1106v7M644.1 1148v10M644.1 1279v9M647.9 1122v10M651.6 1110l0.5 12M651.8 1215v4M651.8 1273v7M655.5 1013v12M655.5 1083v13M659.4 1149v7M659.4 1161v7M659.4 1179v8M663.2 1154v5M663.2 1236v7M670.8 1110v11M670.8 1255v10M674.6 1077v9M678.4 1029v12M682.2 1061v10M686.1 1105v8M686.1 1205v10M693.7 1264v8M697.5 1306v7M701.3 1266v7M705.1 1171v10M708.9 1111v8M709 1132v10M708.9 1288v7M716.5 1259v5M716.5 1270v5M720.4 1042v8M724.2 1173v6M724.2 1186v10M724.2 1270v8M728 1184v10M731.8 1185v7M735.6 1264v8M739.4 1283v5M743.3 1137v8M743.3 1160v9M750.9 1069v7M750.9 1082v8M754.7 1068v8M754.6 1097v6M762.4 1021l-0.6 13M762.3 1034v9M762.2 1153v5M762.3 1185v7M762.4 1255l-0.6 10M762.4 1303l-0.5 9M766.3 1029l-0.8 14M766.1 1252v7M770 1077l-0.5 9M769.8 1250v4M773.6 1254v5M773.7 1258v6M777.5 1142v6M781.5 1159l-0.7 10M788.9 1135v6M792.9 1122l-0.7 9M792.9 1151l-0.7 9M796.7 1051l-0.7 9M796.5 1111v5M796.6 1179l-0.5 6M796.6 1280l-0.6 7M800.4 1075l-0.6 7M804.4 1229l-0.9 10M807.9 1241v4M807.9 1268v4M811.7 1229v4M823.3 1042l-0.7 7M823.4 1238l-0.9 8M827.4 1042l-1.5 14M835 1078l-1.4 12M838.7 1054l-1.2 10M838.5 1290l-0.8 6M842.4 1153l-0.9 7M846.1 979l-0.8 13M846.3 1021l-1.2 11M846 1101l-0.7 5M846.2 1156l-0.9 7M846.3 1191l-1.3 10M846.4 1200l-1.4 11M846.4 1285l-1.3 10M850.3 1018l-1.5 14M850.2 1072l-1.4 10M849.9 1213l-0.8 6M853.7 1223l-0.7 5M857.9 1063l-1.6 12M857.5 1074l-0.8 6M857.8 1241l-1.4 10M861.5 1093l-1.3 9M861.6 1213l-1.4 10M861.2 1230l-0.7 5M865.4 1188l-1.4 9M873.2 1110l-1.8 12M876.6 989l-1.1 12M876.6 1087l-1.0 6M876.5 1236l-0.8 5M880.4 1037l-1.0 7M880.8 1043l-1.8 12M880.8 1174l-1.8 11M884.2 1260l-1.1 7M888.2 1084l-1.4 8M888 1192l-1.0 6M888.1 1206l-1.2 7M888.2 1268l-1.5 9M892.5 1028l-2.4 16M895.5 1232l-0.9 5M900.1 1059l-2.4 14M907.3 1141l-1.6 9M910.9 1020l-1.3 9M910.7 1211l-0.8 5M910.8 1215l-1.0 6M915 1223l-1.9 10M918.7 1206l-1.5 8M926.3 1062l-1.7 9M926.5 1091l-2.0 10M930.3 1212l-2.1 10M934.1 997l-2.0 15M934.3 1079l-2.4 12M933.7 1094l-1.2 6M937.6 1163l-1.4 7M941.2 1213l-0.9 5M941.2 1244l-1.1 5M945.4 1229l-1.7 8M949.2 1090l-1.7 8M949.2 1212l-1.8 8M952.9 971l-1.6 16M952.8 1141l-1.3 6M953.3 1218l-2.3 10M956.4 1225l-1.0 5M956.6 1245l-1.5 7M960.6 977l-1.8 16M968.1 1170l-1.6 7M972.7 1033l-3.1 15M972.5 1083l-2.7 11M971.7 1190l-1.2 5M979.4 1072l-1.5 6M979.4 1208l-1.5 6M979.8 1238l-2.2 9M983.8 1001l-2.5 15M983.3 1193l-1.5 6M995.1 1121l-2.5 10M999.2 1109l-3.1 12M1006.6 1024l-2.5 11M1006.2 1103l-1.8 7M1006.7 1110l-2.8 11M1010.3 1083l-2.4 9M1010.7 1107l-3.3 12M1010.2 1154l-2.2 8M1013.6 987l-1.5 10M1018 1027l-2.7 12M1021.5 1117l-1.9 7M1029.1 985l-2.0 13M1028.9 997l-1.5 9M1032.9 1019l-2.1 9M1032.9 1138l-1.9 7M1037.2 1156l-3.1 10M1049 1049l-3.7 13M1051.6 989l-1.4 9M1052.6 1107l-3.4 11M1056.6 1069l-3.7 12M1060.1 1172l-3.1 10M1075.4 1149l-3.3 10M1109.5 1048l-3.1 9M1113.1 1145l-2.8 8M1128.3 977l-2.7 15M1140 1095l-3.4 9M1144 993l-3.8 16M1143.3 1081l-2.4 7M1147.5 1101l-3.1 8M1151.9 1098l-4.4 12M1154.6 989l-2.2 10M1154.7 999l-2.4 10M1193.5 1038l-4.0 11M1231.1 964l-3.3 18M1241.6 964l-1.4 9"/>
<path stroke="#71c0ff" d="M163.3 977l4.4 12M188.5 974l7.2 19M223.4 1061l5.8 15M257.8 990l5.3 14M270.1 1037l3.6 10M273 1076l5.5 14M277.2 1008l4.6 12M278.5 1129l2.0 6M279.8 1022l7.1 18M284.9 1062l4.5 12M292.7 1094l4.1 11M343.1 1087l2.0 6M343.2 1160l1.9 6M345.9 1090l4.0 12M350.3 1163l2.8 9M352.9 1010l5.3 17M354.2 1174l2.5 8M358.3 1144l2.1 7M361.9 1180l2.4 8M365.7 1071l2.3 8M368.8 1008l3.7 13M387.9 1053l3.6 12M388.3 1107l2.7 10M392.3 1204l2.4 9M395.8 1145l3.1 11M398.9 1004l4.5 17M403.5 1200l2.7 10M407.7 1035l2.0 8M407.4 1085l2.7 10M408 1103l1.4 5M407.4 1218l2.7 10M415.5 1048l1.5 6M414.7 1065l3.2 12M418.5 1039l3.1 12M429.9 1049l3.1 12M430.5 1190l2.0 8M433.7 1013l3.2 13M438.5 1206l1.2 5M442 1141l1.8 8M441.9 1165l1.9 8M442.3 1209l1.2 5M445.6 1217l2.2 10M446.2 1226l1.0 5M446.1 1248l1.2 5M461 1068l1.8 8M460.8 1218l2.3 11M464.8 1138l1.9 9M464.5 1159l2.4 11M464.8 1262l1.8 8M469.1 1246l0.9 5M472.2 1066l2.3 11M476.3 1233l1.6 8M488 1206l1.0 5M487.6 1254l1.7 9M491.8 1128l1.0 6M491.4 1162l1.7 9M495.6 1088l0.9 5M503.1 1129l1.3 7M506.9 1045l1.2 7M506.8 1151l1.5 8M507.1 1159l0.8 5M506.8 1169l1.4 8M521.8 1178l1.7 11M525.6 1154l1.8 11M525.9 1164l1.2 8M526 1240l0.9 6M526.1 1255l0.8 6M533.8 1221l0.6 4M537.4 1091l1.0 7M541 1028l1.4 10M541.1 1209l1.1 8M544.6 1014l1.8 13M548.6 1106l1.5 11M552.6 1193l1.0 8M556.4 1165l0.9 7M556.5 1272l0.8 6M556.6 1277l0.7 5M560.1 1122l1.1 9M560.1 1172l1.1 9M560.1 1203l1.2 9M563.8 1073l1.4 12M575.1 1079l1.5 13M575.5 1247l0.8 7M579.2 1249l1.0 9M583.1 1150l0.7 7M583.3 1291v5M586.9 1244l0.8 8M590.8 1134l0.6 6M594.6 1153l0.5 6M594.5 1224l0.8 9M598.4 1086l0.6 7M598.3 1274l0.8 9M602.2 1109l0.6 7M602.2 1227l0.7 8M606 1151l0.7 8M606 1159l0.5 6M605.9 1287l0.7 9M609.7 1207l0.7 9M613.7 1167v5M613.7 1199v6M617.4 1073l0.6 8M617.4 1283l0.7 9M621.1 1046l0.8 11M621.1 1091l0.8 12M621.3 1177v7M621.2 1183l0.7 10M625.1 1120v7M625.1 1252v7M628.8 1279l0.5 8M632.5 1088l0.7 13M632.6 1211l0.6 10M644.2 1215v5M651.6 1011l0.6 14M655.5 1042v13M655.6 1154v5M667 1174v9M670.8 1121v9M674.6 1198v7M674.6 1212v7M674.6 1251v9M678.4 1077v12M678.4 1164v7M678.4 1181v7M682.3 1171v7M686 1072v12M686.1 1222v11M686.1 1237v9M686.1 1294v9M689.9 1253v9M689.9 1299v10M693.7 1281v6M693.7 1299v5M697.5 1240v8M705.1 1164v7M705.1 1181v11M712.8 1157v12M720.4 1023v8M724.3 1083v12M724.2 1124v8M724.2 1154v11M724.2 1179v7M724.2 1278v6M731.8 1168v9M735.7 1115v12M739.4 1172v8M739.4 1208v8M739.4 1237v6M747.2 1048l-0.6 15M747.1 1062v10M750.9 1299v8M754.6 1150v6M758.5 1028v10M766.2 1174l-0.6 10M773.9 1018l-0.8 15M777.8 1064l-1.0 14M777.5 1204v5M781.5 1025l-0.8 13M781.4 1244l-0.6 8M781.3 1296v5M785.3 1094l-0.9 11M785.3 1105l-0.9 11M789.1 1205l-0.7 9M789.1 1214l-0.9 11M789.1 1296l-0.7 9M796.6 1016l-0.6 9M796.7 1214l-0.8 9M804.6 1051l-1.3 14M819.4 1136l-0.7 6M819.6 1266l-1.0 9M823.2 1259l-0.7 6M827.4 1143l-1.4 12M831.1 1072l-1.1 10M838.7 1097l-1.2 10M842.5 1255l-1.1 9M846.2 991l-1.1 14M854.2 1031l-1.8 15M854.2 1077l-1.8 13M853.8 1142l-0.9 7M857.6 1093l-1.0 7M857.8 1278l-1.4 10M861.5 1198l-1.3 9M861.2 1243l-0.6 4M865.3 1149l-1.2 8M876.7 1051l-1.1 8M876.8 1175l-1.4 9M876.8 1217l-1.5 10M880.6 1237l-1.4 9M880.5 1263l-1.1 7M880.4 1277l-0.9 6M884.8 1072l-2.1 13M884.7 1094l-1.9 12M884.1 1144l-0.9 6M884.2 1276l-0.9 6M887.9 1027l-0.9 7M888.6 1033l-2.3 15M887.9 1103l-0.9 6M888.5 1108l-1.9 12M888.2 1144l-1.4 9M892.1 1198l-1.6 10M896.1 1008l-2.0 16M899.9 1153l-2.0 11M899.5 1271l-1.3 8M907.2 1008l-1.4 11M907.4 1018l-1.8 12M922.8 1006l-2.2 15M922.8 1178l-2.1 11M926.1 1147l-1.2 6M926.1 1206l-1.2 6M925.9 1245l-0.9 5M930.2 1141l-1.8 9M934.5 1044l-2.9 15M934.1 1139l-2.1 10M934 1213l-1.7 8M934 1221l-1.8 9M937.3 978l-0.8 9M945.7 1036l-2.4 12M945.4 1132l-1.8 8M945.4 1199l-1.9 9M948.9 1107l-1.3 6M949.4 1234l-2.1 10M949.2 1248l-1.8 8M956.7 1229l-1.6 7M960.5 1229l-1.6 7M972.1 1047l-1.9 9M972.1 1224l-2.0 9M976.3 1044l-2.7 12M975.6 1170l-1.4 6M990.6 984l-0.9 8M998.2 983l-1.0 8M1002.8 1055l-2.6 10M1009.9 1035l-1.6 7M1010.4 1177l-2.6 10M1014.1 1093l-2.3 9M1021.6 1170l-2.2 8M1048.5 985l-2.7 16M1052.3 1067l-2.9 9M1056.4 1081l-3.4 11M1068 1043l-3.9 13M1067.9 1081l-3.5 11M1075 1047l-2.6 9M1098.6 1122l-4.1 12M1101.3 965l-2.0 15M1113.3 1002l-3.2 13M1117.6 1009l-4.1 15M1124.5 1123l-2.8 8M1128.1 992l-2.5 11M1167.2 1000l-4.6 17M1169.7 1059l-2.0 6M1181.3 1054l-2.5 7M1190.3 1019l-5.2 15M1197.2 1006l-3.8 12M1204.5 1037l-3.1 8"/>
<path stroke="#b5dcff" d="M193.5 1028l4.8 13M243.9 1085l2.9 8M251.3 1022l3.1 8M251.5 1029l2.8 8M301.2 1123l2.1 6M304.7 1119l2.7 8M312.2 1001l3.0 9M319.4 1134l3.8 11M342.8 1022l2.7 8M346.3 1102l3.1 10M350.7 1142l2.0 6M366.2 1156l1.4 5M392 1121l3.0 11M392.4 1212l2.2 8M404.3 1167l1.2 5M415.2 1196l2.2 9M426.3 1155l2.8 11M430.3 1032l2.3 10M434.4 1081l1.7 7M438.1 1180l1.9 8M441.5 1021l2.8 12M442.1 1148l1.6 7M449.3 1239l2.3 10M452.6 982l3.4 16M457.5 1243l1.2 6M471.9 975l2.8 15M472.7 1173l1.1 6M487.1 1009l2.9 15M491.4 1236l1.9 10M494.6 991l3.0 17M495.2 1120l1.9 10M510.2 1066l2.1 12M510.5 1146l1.6 10M514.7 1175l0.8 5M525.7 1197l1.6 10M529.3 1065l2.0 13M529.8 1265l1.1 7M533.8 1245l0.6 4M533.4 1264l1.3 9M541.1 1258l1.1 8M544.7 1136l1.6 12M548.9 1231l0.7 6M556.1 1098l1.5 12M567.9 1094l0.8 7M567.9 1148l0.8 7M568.1 1284v4M571.5 1061l1.2 10M571.6 1255l0.9 8M575.5 1269l0.8 7M579.5 1236v5M587 1149l0.6 6M587 1258l0.7 7M598.4 1300l0.5 6M617.4 1194l0.6 8M625.1 1169v6M628.7 1077l0.8 13M628.8 1125l0.5 8M632.7 1204v8M644 1046l0.7 14M644.1 1177v8M648 1026v7M647.8 1082l0.6 13M655.5 1139v11M659.4 1224v5M667 1263v7M670.8 1001v9M674.6 1110v12M674.6 1281v6M678.4 1187v11M678.4 1241v9M689.9 1175v10M693.7 1103v8M697.5 1017v9M701.3 1147v9M708.9 1163v7M712.7 1018v8M712.7 1106v5M716.6 1000v16M716.6 1251v9M728 1271v4M735.6 1014v8M739.4 1037v8M754.6 1197v6M762.4 1102l-0.5 9M762.3 1232v7M769.9 1208v7M770 1223l-0.6 10M781.5 1063l-0.8 11M789.1 1245l-0.8 10M789.1 1280l-0.7 9M815.8 1062l-0.9 9M815.5 1201v5M819.7 1116l-1.2 11M830.9 1112l-0.9 8M838.4 1243l-0.5 5M838.4 1285l-0.6 5M842.2 1121l-0.6 5M850.2 1089l-1.4 11M853.7 1059l-0.7 6M853.9 1154l-1.1 8M857.9 1146l-1.6 11M865.3 1180l-1.3 9M869.6 1046l-2.2 15M880.7 1228l-1.6 10M899.4 1031l-1.0 7M906.9 1159l-0.8 5M906.9 1247l-0.7 4M915 1060l-1.8 9M922.7 1189l-1.9 10M922.2 1220l-1.1 6M922.3 1248l-1.1 6M926 995l-1.1 9M926.6 1115l-2.1 11M926.2 1200l-1.3 7M953.3 1169l-2.5 11M957.3 1114l-2.7 12M964.1 1136l-1.1 5M964.4 1174l-1.8 8M964.3 1219l-1.7 7M976 1212l-2.3 9M987.3 1102l-2.0 8M995.2 1065l-2.5 10M1002.2 1084l-1.4 6M1005.9 979l-1.2 10M1010.5 1016l-2.9 14M1014.1 996l-2.4 14M1029.6 1180l-3.0 10M1056.2 1151l-3.1 10M1082.2 980l-1.9 12M1094.5 1028l-3.7 12M1108.8 1001l-1.9 8M1117.5 1118l-4.0 11M1144.5 1062l-4.8 13M1193.8 1026l-4.6 13"/>
<path stroke="#e0f0ff" d="M350.4 1127l2.5 8M358.3 1174l2.0 7M396.2 1221l2.2 8M403.9 1224l2.1 8M423.1 1231l1.6 6M472 1029l2.7 13M479.5 1036l2.8 14M480.1 1225l1.5 8M499 1273l1.8 10M518.1 1261l1.6 10M544.7 1003l1.5 11M567.9 1044l0.8 7M594.5 1158l0.9 9M605.9 1125l0.9 10M728 1221v6M762.3 1269v8M781.4 1261l-0.6 8M819.5 1096l-0.8 7M823.3 1097l-0.9 8M827.2 1055l-0.9 8M842.4 1108l-1.0 8M896.2 1083l-2.2 12M915.1 1140l-2.1 11M918.5 1134l-1.2 7M922.5 1240l-1.7 9M945.1 1012l-1.3 8M1025.7 1099l-2.8 10M1208.2 992l-2.9 11"/>
<path stroke="#ffffff" d="M209.5 998l3.1 8M380.4 1069l3.4 12M400.4 1220l1.5 6M430.8 1198l1.5 6M434.5 1218l1.7 7M449.4 1202l2.2 10M476 983l2.3 12M476.6 1211l0.9 5M525.6 1132l1.8 11M525.9 1221l1.2 8M533.3 1165l1.6 11M552.8 1274l0.6 5M564.2 1100l0.7 6M564 1147l0.9 8M578.9 1069l1.5 14M583.2 1044l0.6 6M609.8 1078l0.6 7M609.8 1135l0.5 7M617.4 1170l0.5 7M628.7 1089l0.7 12M632.8 1237v5M636.5 1194v6M686.1 1192v6M728 1240v8M743.4 1047l-0.6 15M743.2 1203v5M750.8 1198v5M781.4 1283l-0.5 7M789 1002l-0.7 12M796.7 1292l-0.8 10M811.8 1237l-0.5 6M827.3 1071l-1.2 10M834.7 1046l-0.8 7M850 1031l-1.0 9M857.4 1237l-0.6 4M861.4 1014l-1.0 9M861.6 1145l-1.4 9M872.9 1083l-1.3 8M907.3 1058l-1.6 9M915 1200l-1.8 10M934.1 1259l-2.1 10M956.7 1187l-1.5 7M983.7 1099l-2.3 9M994.5 1116l-1.3 5M1086.5 1168l-2.7 8M1105.9 1096l-3.7 10M1144.2 1024l-4.2 13M1166.2 1037l-2.7 8"/>
</g>
<g stroke-width="4.1">
</g>
<path fill="#000" stroke="none" d="M464 1008L508 1014L514 1236L470 1230Z"/>
<g stroke-width="5"><path stroke="#005ad8" d="M469.8 1014.0l24.3 3.9"/><path stroke="#89caff" d="M466.5 1023.6l30.4 4.9"/><path stroke="#43adff" d="M465.5 1034.2l38.7 6.2"/><path stroke="#4ab0ff" d="M470.3 1043.9l38.1 6.1"/><path stroke="#0072ec" d="M467.9 1053.3l37.7 6.0"/><path stroke="#0057d5" d="M468.9 1064.0l24.7 4.0"/><path stroke="#93cdff" d="M472.0 1074.4l31.8 5.1"/><path stroke="#0050cf" d="M466.7 1083.2l32.1 5.1"/><path stroke="#2ea3ff" d="M469.8 1092.6l33.6 5.4"/><path stroke="#69bdff" d="M469.8 1129.9l31.4 5.0"/><path stroke="#1898ff" d="M470.1 1138.9l36.3 5.8"/><path stroke="#005fdc" d="M469.1 1146.9l25.2 4.0"/><path stroke="#7ac3ff" d="M473.4 1156.7l27.7 4.4"/><path stroke="#92cdff" d="M469.6 1166.2l36.8 5.9"/><path stroke="#006fe9" d="M474.7 1186.6l29.4 4.7"/><path stroke="#3caaff" d="M475.3 1194.9l24.2 3.9"/><path stroke="#0076ef" d="M471.2 1203.3l33.1 5.3"/><path stroke="#0078f0" d="M474.9 1212.2l28.2 4.5"/></g>
</g>
<g fill="none" stroke="#fff" stroke-width="3.4" stroke-dasharray="3.4 7.6">
<circle cx="695.5" cy="691.8" r="616.0" transform="rotate(-90 695.5 691.8)"/>
<circle cx="695.5" cy="691.8" r="471.4" transform="rotate(-90 695.5 691.8)"/>
<circle cx="695.5" cy="691.8" r="318.3" transform="rotate(-90 695.5 691.8)"/>
<circle cx="695.5" cy="691.8" r="160.1" transform="rotate(-90 695.5 691.8)"/>
<circle cx="695.5" cy="691.8" r="24.3" stroke-dasharray="3.4 2.96"/>
<path d="M695.5 658.8L695.5 75.8M704.0 659.9L854.9 96.8M712.0 663.2L1003.5 158.3M718.8 668.5L1131.1 256.2M724.1 675.3L1229.0 383.8M727.4 683.3L1290.5 532.4M728.5 691.8L1311.5 691.8M727.4 700.3L1290.5 851.2M724.1 708.3L1229.0 999.8M718.8 715.1L1131.1 1127.4M712.0 720.4L1003.5 1225.3M704.0 723.7L854.9 1286.8M687.0 723.7L536.1 1286.8M679.0 720.4L387.5 1225.3M672.2 715.1L259.9 1127.4M666.9 708.3L162.0 999.8M663.6 700.3L100.5 851.2M662.5 691.8L79.5 691.8M663.6 683.3L100.5 532.4M666.9 675.3L162.0 383.8M672.2 668.5L259.9 256.2M679.0 663.2L387.5 158.3M687.0 659.9L536.1 96.8"/>
</g>
<circle cx="695.5" cy="691.8" r="12.6" fill="none" stroke="#fff" stroke-width="3"/>
<circle cx="695.5" cy="691.8" r="3" fill="#fff"/>
<line x1="695.5" y1="691.8" x2="783.8" y2="846.3" stroke="#fff" stroke-width="3.9" stroke-dasharray="15 17" stroke-dashoffset="0.0"/>
<line x1="855.3" y1="971.4" x2="1001.2" y2="1226.6" stroke="#fff" stroke-width="4.6" stroke-dasharray="16.5 16.3" stroke-dashoffset="0.0"/>
<line x1="695.65" y1="694.8" x2="695.65" y2="1309.2" stroke="#e0400a" stroke-width="4.4"/>
</g>
<defs><linearGradient id="cb" x1="0" y1="0" x2="0" y2="1"><stop offset="0.00" stop-color="#ffffff"/><stop offset="0.07" stop-color="#d7ebff"/><stop offset="0.12" stop-color="#aad7ff"/><stop offset="0.20" stop-color="#3caaff"/><stop offset="0.26" stop-color="#0a91ff"/><stop offset="0.32" stop-color="#0078f0"/><stop offset="0.40" stop-color="#005fdc"/><stop offset="0.50" stop-color="#003cbe"/><stop offset="0.60" stop-color="#001496"/><stop offset="0.68" stop-color="#000078"/><stop offset="0.80" stop-color="#000046"/><stop offset="0.90" stop-color="#00001e"/><stop offset="1.00" stop-color="#000005"/></linearGradient></defs>
<rect x="1338.2" y="1000.3" width="47.7" height="307.4" fill="url(#cb)" stroke="#000" stroke-width="2.2"/>
<path d="M1338.2 1307.2h5.0M1385.9 1307.2h-5.0M1338.2 1244.6h2.6M1385.9 1244.6h-2.6M1338.2 1208.0h2.6M1385.9 1208.0h-2.6M1338.2 1182.0h2.6M1385.9 1182.0h-2.6M1338.2 1161.8h2.6M1385.9 1161.8h-2.6M1338.2 1145.3h2.6M1385.9 1145.3h-2.6M1338.2 1131.4h2.6M1385.9 1131.4h-2.6M1338.2 1119.4h2.6M1385.9 1119.4h-2.6M1338.2 1108.7h2.6M1385.9 1108.7h-2.6M1338.2 1099.2h5.0M1385.9 1099.2h-5.0M1338.2 1036.6h2.6M1385.9 1036.6h-2.6M1340.2 1000.3v2M1342.5 1000.3v2M1344.8 1000.3v4M1347.1 1000.3v2M1349.4 1000.3v2M1351.7 1000.3v2M1354.0 1000.3v4M1356.3 1000.3v2M1358.6 1000.3v2M1360.9 1000.3v2M1363.2 1000.3v4M1365.5 1000.3v2M1367.8 1000.3v2M1370.1 1000.3v2M1372.4 1000.3v4M1374.7 1000.3v2M1377.0 1000.3v2M1379.3 1000.3v2M1381.6 1000.3v4M1383.9 1000.3v2" stroke="#000" stroke-width="1.9" fill="none"/>
<text font-size="50" fill="#000" transform="translate(630.99 55.49) rotate(0) scale(1.0058 1.0324)">24:00</text>
<text font-size="50" fill="#000" transform="translate(633.04 1362.47) rotate(0) scale(0.9895 1.0451)">12:00</text>
<text font-size="50" fill="#000" transform="translate(56.48 754.73) rotate(-90) scale(0.9922 1.0324)">06:00</text>
<text font-size="50" fill="#000" transform="translate(1330.52 626.04) rotate(90) scale(0.9883 1.0395)">18:00</text>
<text font-size="36" fill="#fff" transform="translate(858.23 958.73) rotate(0) scale(1.013 1.0575)">+70<tspan font-size="28" dx="-1.24" dy="-4.45">°</tspan></text>
<text font-size="36" fill="#fff" transform="translate(1038.48 1196.49) rotate(0) scale(1.0104 1.0436)">+50<tspan font-size="28" dx="-0.44" dy="-4.7">°</tspan></text>
<text font-size="37" fill="#000" transform="translate(1315.19 984.75) rotate(0) scale(1.0241 1.0019)">kR H<tspan font-size="17" dx="-0.7" dy="5">2</tspan></text>
<text font-size="30" fill="#000" transform="translate(1394.79 1109.24) rotate(0) scale(0.9833 1.0495)">10</text>
<text font-size="30" fill="#000" transform="translate(1394.6 1308.0) rotate(0) scale(0.8 1.0488)">1</text>
</svg></body></html>
